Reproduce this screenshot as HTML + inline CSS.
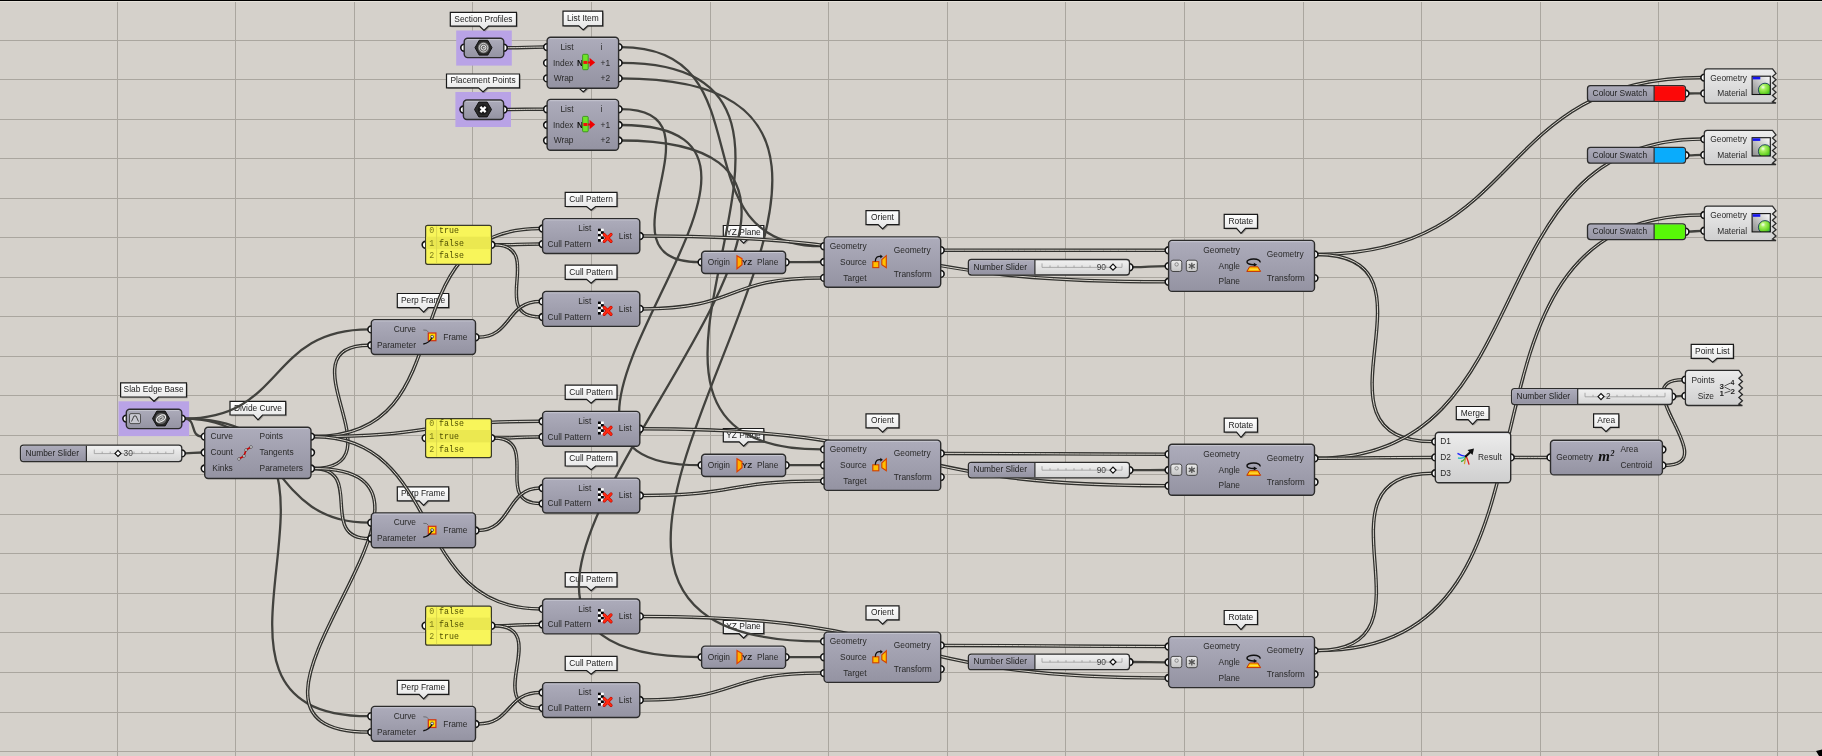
<!DOCTYPE html>
<html><head><meta charset="utf-8"><style>html,body{margin:0;padding:0;background:#d5d1cb;overflow:hidden}svg{display:block;will-change:transform}</style></head>
<body><svg width="1822" height="756" viewBox="0 0 1822 756">
<defs>
<linearGradient id="gGray" x1="0" y1="0" x2="0" y2="1"><stop offset="0" stop-color="#adacbb"/><stop offset="1" stop-color="#9493a2"/></linearGradient>
<linearGradient id="gLight" x1="0" y1="0" x2="0" y2="1"><stop offset="0" stop-color="#ececec"/><stop offset="1" stop-color="#cfcfcf"/></linearGradient>
<linearGradient id="gDark" x1="0" y1="0" x2="0" y2="1"><stop offset="0" stop-color="#a4a4b0"/><stop offset="1" stop-color="#8a8a98"/></linearGradient>
<linearGradient id="gTip" x1="0" y1="0" x2="0" y2="1"><stop offset="0" stop-color="#ffffff"/><stop offset="1" stop-color="#e2e2e2"/></linearGradient>
<linearGradient id="gSlide" x1="0" y1="0" x2="0" y2="1"><stop offset="0" stop-color="#f2f2f2"/><stop offset="1" stop-color="#d4d4d4"/></linearGradient>
<linearGradient id="gBox" x1="0" y1="0" x2="0" y2="1"><stop offset="0" stop-color="#ececec"/><stop offset="1" stop-color="#c4c4c4"/></linearGradient>
<radialGradient id="gBall" cx="0.35" cy="0.3" r="0.75"><stop offset="0" stop-color="#f4fff0"/><stop offset="0.25" stop-color="#a8f060"/><stop offset="0.7" stop-color="#60d020"/><stop offset="1" stop-color="#20a070"/></radialGradient>
<linearGradient id="gPvBox" x1="0" y1="1" x2="1" y2="0"><stop offset="0" stop-color="#8a8a8a"/><stop offset="1" stop-color="#ffffff"/></linearGradient>
</defs>
<rect x="0" y="0" width="1822" height="756" fill="#d5d1cb"/>
<path d="M117.5 0V756 M235.5 0V756 M354.5 0V756 M472.5 0V756 M591.5 0V756 M710.5 0V756 M828.5 0V756 M947.5 0V756 M1065.5 0V756 M1184.5 0V756 M1303.5 0V756 M1421.5 0V756 M1540.5 0V756 M1658.5 0V756 M1777.5 0V756 M0 40.5H1822 M0 79.5H1822 M0 119.5H1822 M0 158.5H1822 M0 198.5H1822 M0 237.5H1822 M0 277.5H1822 M0 316.5H1822 M0 356.5H1822 M0 395.5H1822 M0 435.5H1822 M0 474.5H1822 M0 514.5H1822 M0 553.5H1822 M0 593.5H1822 M0 632.5H1822 M0 672.5H1822 M0 712.5H1822 M0 751.5H1822" stroke="#aaa69f" stroke-width="1" fill="none"/>
<rect x="0" y="0" width="1822" height="1" fill="#000"/>
<rect x="0" y="1" width="1822" height="1" fill="#e6e2da"/>
<rect x="456.2" y="30.5" width="55.6" height="35.1" fill="#b9a3e6"/>
<rect x="455.4" y="92.0" width="55.6" height="35.0" fill="#b9a3e6"/>
<rect x="118.5" y="401.3" width="70.6" height="34.8" fill="#b9a3e6"/>
<path d="M450.3 12.3H516.5V26.1H488.5L484.0 30.5L479.5 26.1H450.3Z" transform="translate(1.2,1.2)" fill="#000" fill-opacity="0.25"/>
<path d="M450.3 12.3H516.5V26.1H488.5L484.0 30.5L479.5 26.1H450.3Z" fill="url(#gTip)" stroke="#1a1a1a" stroke-width="1.2" stroke-linejoin="miter"/>
<text x="483.4" y="21.6" font-size="8.4" fill="#222" text-anchor="middle" font-family="Liberation Sans, sans-serif" >Section Profiles</text>
<path d="M446.5 74.0H519.5V87.8H487.5L483.0 92.0L478.5 87.8H446.5Z" transform="translate(1.2,1.2)" fill="#000" fill-opacity="0.25"/>
<path d="M446.5 74.0H519.5V87.8H487.5L483.0 92.0L478.5 87.8H446.5Z" fill="url(#gTip)" stroke="#1a1a1a" stroke-width="1.2" stroke-linejoin="miter"/>
<text x="483.0" y="83.3" font-size="8.4" fill="#222" text-anchor="middle" font-family="Liberation Sans, sans-serif" >Placement Points</text>
<path d="M120.6 382.9H186.5V397.0H158.5L154.0 401.3L149.5 397.0H120.6Z" transform="translate(1.2,1.2)" fill="#000" fill-opacity="0.25"/>
<path d="M120.6 382.9H186.5V397.0H158.5L154.0 401.3L149.5 397.0H120.6Z" fill="url(#gTip)" stroke="#1a1a1a" stroke-width="1.2" stroke-linejoin="miter"/>
<text x="153.6" y="392.3" font-size="8.4" fill="#222" text-anchor="middle" font-family="Liberation Sans, sans-serif" >Slab Edge Base</text>
<path d="M563.0 11.2H602.7V25.8H587.7L583.2 29.9L578.7 25.8H563.0Z" transform="translate(1.2,1.2)" fill="#000" fill-opacity="0.25"/>
<path d="M563.0 11.2H602.7V25.8H587.7L583.2 29.9L578.7 25.8H563.0Z" fill="url(#gTip)" stroke="#1a1a1a" stroke-width="1.2" stroke-linejoin="miter"/>
<text x="582.9" y="20.9" font-size="8.4" fill="#222" text-anchor="middle" font-family="Liberation Sans, sans-serif" >List Item</text>
<path d="M563.0 73.3H602.7V87.9H587.7L583.2 92.0L578.7 87.9H563.0Z" transform="translate(1.2,1.2)" fill="#000" fill-opacity="0.25"/>
<path d="M563.0 73.3H602.7V87.9H587.7L583.2 92.0L578.7 87.9H563.0Z" fill="url(#gTip)" stroke="#1a1a1a" stroke-width="1.2" stroke-linejoin="miter"/>
<text x="582.9" y="83.0" font-size="8.4" fill="#222" text-anchor="middle" font-family="Liberation Sans, sans-serif" >List Item</text>
<path d="M230.0 401.3H285.7V415.0H262.5L258.0 419.8L253.5 415.0H230.0Z" transform="translate(1.2,1.2)" fill="#000" fill-opacity="0.25"/>
<path d="M230.0 401.3H285.7V415.0H262.5L258.0 419.8L253.5 415.0H230.0Z" fill="url(#gTip)" stroke="#1a1a1a" stroke-width="1.2" stroke-linejoin="miter"/>
<text x="257.9" y="410.5" font-size="8.4" fill="#222" text-anchor="middle" font-family="Liberation Sans, sans-serif" >Divide Curve</text>
<path d="M397.3 293.5H448.7V307.6H428.1L423.6 312.2L419.1 307.6H397.3Z" transform="translate(1.2,1.2)" fill="#000" fill-opacity="0.25"/>
<path d="M397.3 293.5H448.7V307.6H428.1L423.6 312.2L419.1 307.6H397.3Z" fill="url(#gTip)" stroke="#1a1a1a" stroke-width="1.2" stroke-linejoin="miter"/>
<text x="423.0" y="302.9" font-size="8.4" fill="#222" text-anchor="middle" font-family="Liberation Sans, sans-serif" >Perp Frame</text>
<path d="M397.3 486.8H448.7V500.9H428.1L423.6 505.5L419.1 500.9H397.3Z" transform="translate(1.2,1.2)" fill="#000" fill-opacity="0.25"/>
<path d="M397.3 486.8H448.7V500.9H428.1L423.6 505.5L419.1 500.9H397.3Z" fill="url(#gTip)" stroke="#1a1a1a" stroke-width="1.2" stroke-linejoin="miter"/>
<text x="423.0" y="496.2" font-size="8.4" fill="#222" text-anchor="middle" font-family="Liberation Sans, sans-serif" >Perp Frame</text>
<path d="M397.3 680.3H448.7V694.4H428.1L423.6 699.0L419.1 694.4H397.3Z" transform="translate(1.2,1.2)" fill="#000" fill-opacity="0.25"/>
<path d="M397.3 680.3H448.7V694.4H428.1L423.6 699.0L419.1 694.4H397.3Z" fill="url(#gTip)" stroke="#1a1a1a" stroke-width="1.2" stroke-linejoin="miter"/>
<text x="423.0" y="689.7" font-size="8.4" fill="#222" text-anchor="middle" font-family="Liberation Sans, sans-serif" >Perp Frame</text>
<path d="M565.2 192.3H617.0V206.5H595.6L591.1 210.3L586.6 206.5H565.2Z" transform="translate(1.2,1.2)" fill="#000" fill-opacity="0.25"/>
<path d="M565.2 192.3H617.0V206.5H595.6L591.1 210.3L586.6 206.5H565.2Z" fill="url(#gTip)" stroke="#1a1a1a" stroke-width="1.2" stroke-linejoin="miter"/>
<text x="591.1" y="201.8" font-size="8.4" fill="#222" text-anchor="middle" font-family="Liberation Sans, sans-serif" >Cull Pattern</text>
<path d="M565.2 265.2H617.0V279.4H595.6L591.1 283.2L586.6 279.4H565.2Z" transform="translate(1.2,1.2)" fill="#000" fill-opacity="0.25"/>
<path d="M565.2 265.2H617.0V279.4H595.6L591.1 283.2L586.6 279.4H565.2Z" fill="url(#gTip)" stroke="#1a1a1a" stroke-width="1.2" stroke-linejoin="miter"/>
<text x="591.1" y="274.7" font-size="8.4" fill="#222" text-anchor="middle" font-family="Liberation Sans, sans-serif" >Cull Pattern</text>
<path d="M565.2 385.1H617.0V399.3H595.6L591.1 403.1L586.6 399.3H565.2Z" transform="translate(1.2,1.2)" fill="#000" fill-opacity="0.25"/>
<path d="M565.2 385.1H617.0V399.3H595.6L591.1 403.1L586.6 399.3H565.2Z" fill="url(#gTip)" stroke="#1a1a1a" stroke-width="1.2" stroke-linejoin="miter"/>
<text x="591.1" y="394.6" font-size="8.4" fill="#222" text-anchor="middle" font-family="Liberation Sans, sans-serif" >Cull Pattern</text>
<path d="M565.2 451.8H617.0V466.0H595.6L591.1 469.8L586.6 466.0H565.2Z" transform="translate(1.2,1.2)" fill="#000" fill-opacity="0.25"/>
<path d="M565.2 451.8H617.0V466.0H595.6L591.1 469.8L586.6 466.0H565.2Z" fill="url(#gTip)" stroke="#1a1a1a" stroke-width="1.2" stroke-linejoin="miter"/>
<text x="591.1" y="461.3" font-size="8.4" fill="#222" text-anchor="middle" font-family="Liberation Sans, sans-serif" >Cull Pattern</text>
<path d="M565.2 572.7H617.0V586.9H595.6L591.1 590.7L586.6 586.9H565.2Z" transform="translate(1.2,1.2)" fill="#000" fill-opacity="0.25"/>
<path d="M565.2 572.7H617.0V586.9H595.6L591.1 590.7L586.6 586.9H565.2Z" fill="url(#gTip)" stroke="#1a1a1a" stroke-width="1.2" stroke-linejoin="miter"/>
<text x="591.1" y="582.2" font-size="8.4" fill="#222" text-anchor="middle" font-family="Liberation Sans, sans-serif" >Cull Pattern</text>
<path d="M565.2 656.3H617.0V670.5H595.6L591.1 674.3L586.6 670.5H565.2Z" transform="translate(1.2,1.2)" fill="#000" fill-opacity="0.25"/>
<path d="M565.2 656.3H617.0V670.5H595.6L591.1 674.3L586.6 670.5H565.2Z" fill="url(#gTip)" stroke="#1a1a1a" stroke-width="1.2" stroke-linejoin="miter"/>
<text x="591.1" y="665.8" font-size="8.4" fill="#222" text-anchor="middle" font-family="Liberation Sans, sans-serif" >Cull Pattern</text>
<path d="M723.3 225.5H763.8V238.8H748.1L743.6 243.2L739.1 238.8H723.3Z" transform="translate(1.2,1.2)" fill="#000" fill-opacity="0.25"/>
<path d="M723.3 225.5H763.8V238.8H748.1L743.6 243.2L739.1 238.8H723.3Z" fill="url(#gTip)" stroke="#1a1a1a" stroke-width="1.2" stroke-linejoin="miter"/>
<text x="743.5" y="234.5" font-size="8.4" fill="#222" text-anchor="middle" font-family="Liberation Sans, sans-serif" >YZ Plane</text>
<path d="M723.3 428.5H763.8V441.8H748.1L743.6 446.2L739.1 441.8H723.3Z" transform="translate(1.2,1.2)" fill="#000" fill-opacity="0.25"/>
<path d="M723.3 428.5H763.8V441.8H748.1L743.6 446.2L739.1 441.8H723.3Z" fill="url(#gTip)" stroke="#1a1a1a" stroke-width="1.2" stroke-linejoin="miter"/>
<text x="743.5" y="437.5" font-size="8.4" fill="#222" text-anchor="middle" font-family="Liberation Sans, sans-serif" >YZ Plane</text>
<path d="M723.3 620.4H763.8V633.7H748.1L743.6 638.1L739.1 633.7H723.3Z" transform="translate(1.2,1.2)" fill="#000" fill-opacity="0.25"/>
<path d="M723.3 620.4H763.8V633.7H748.1L743.6 638.1L739.1 633.7H723.3Z" fill="url(#gTip)" stroke="#1a1a1a" stroke-width="1.2" stroke-linejoin="miter"/>
<text x="743.5" y="629.4" font-size="8.4" fill="#222" text-anchor="middle" font-family="Liberation Sans, sans-serif" >YZ Plane</text>
<path d="M866.0 210.6H899.0V224.6H887.1L882.6 229.0L878.1 224.6H866.0Z" transform="translate(1.2,1.2)" fill="#000" fill-opacity="0.25"/>
<path d="M866.0 210.6H899.0V224.6H887.1L882.6 229.0L878.1 224.6H866.0Z" fill="url(#gTip)" stroke="#1a1a1a" stroke-width="1.2" stroke-linejoin="miter"/>
<text x="882.5" y="220.0" font-size="8.4" fill="#222" text-anchor="middle" font-family="Liberation Sans, sans-serif" >Orient</text>
<path d="M866.0 413.8H899.0V427.8H887.1L882.6 432.2L878.1 427.8H866.0Z" transform="translate(1.2,1.2)" fill="#000" fill-opacity="0.25"/>
<path d="M866.0 413.8H899.0V427.8H887.1L882.6 432.2L878.1 427.8H866.0Z" fill="url(#gTip)" stroke="#1a1a1a" stroke-width="1.2" stroke-linejoin="miter"/>
<text x="882.5" y="423.2" font-size="8.4" fill="#222" text-anchor="middle" font-family="Liberation Sans, sans-serif" >Orient</text>
<path d="M866.0 605.8H899.0V619.8H887.1L882.6 624.2L878.1 619.8H866.0Z" transform="translate(1.2,1.2)" fill="#000" fill-opacity="0.25"/>
<path d="M866.0 605.8H899.0V619.8H887.1L882.6 624.2L878.1 619.8H866.0Z" fill="url(#gTip)" stroke="#1a1a1a" stroke-width="1.2" stroke-linejoin="miter"/>
<text x="882.5" y="615.2" font-size="8.4" fill="#222" text-anchor="middle" font-family="Liberation Sans, sans-serif" >Orient</text>
<path d="M1224.2 214.3H1257.5V228.3H1245.5L1241.0 233.4L1236.5 228.3H1224.2Z" transform="translate(1.2,1.2)" fill="#000" fill-opacity="0.25"/>
<path d="M1224.2 214.3H1257.5V228.3H1245.5L1241.0 233.4L1236.5 228.3H1224.2Z" fill="url(#gTip)" stroke="#1a1a1a" stroke-width="1.2" stroke-linejoin="miter"/>
<text x="1240.8" y="223.7" font-size="8.4" fill="#222" text-anchor="middle" font-family="Liberation Sans, sans-serif" >Rotate</text>
<path d="M1224.2 418.2H1257.5V432.2H1245.5L1241.0 437.3L1236.5 432.2H1224.2Z" transform="translate(1.2,1.2)" fill="#000" fill-opacity="0.25"/>
<path d="M1224.2 418.2H1257.5V432.2H1245.5L1241.0 437.3L1236.5 432.2H1224.2Z" fill="url(#gTip)" stroke="#1a1a1a" stroke-width="1.2" stroke-linejoin="miter"/>
<text x="1240.8" y="427.6" font-size="8.4" fill="#222" text-anchor="middle" font-family="Liberation Sans, sans-serif" >Rotate</text>
<path d="M1224.2 610.5H1257.5V624.5H1245.5L1241.0 629.6L1236.5 624.5H1224.2Z" transform="translate(1.2,1.2)" fill="#000" fill-opacity="0.25"/>
<path d="M1224.2 610.5H1257.5V624.5H1245.5L1241.0 629.6L1236.5 624.5H1224.2Z" fill="url(#gTip)" stroke="#1a1a1a" stroke-width="1.2" stroke-linejoin="miter"/>
<text x="1240.8" y="619.9" font-size="8.4" fill="#222" text-anchor="middle" font-family="Liberation Sans, sans-serif" >Rotate</text>
<path d="M1456.3 406.5H1489.0V419.7H1477.1L1472.6 424.3L1468.1 419.7H1456.3Z" transform="translate(1.2,1.2)" fill="#000" fill-opacity="0.25"/>
<path d="M1456.3 406.5H1489.0V419.7H1477.1L1472.6 424.3L1468.1 419.7H1456.3Z" fill="url(#gTip)" stroke="#1a1a1a" stroke-width="1.2" stroke-linejoin="miter"/>
<text x="1472.7" y="415.5" font-size="8.4" fill="#222" text-anchor="middle" font-family="Liberation Sans, sans-serif" >Merge</text>
<path d="M1691.2 344.4H1733.4V358.3H1717.1L1712.6 362.2L1708.1 358.3H1691.2Z" transform="translate(1.2,1.2)" fill="#000" fill-opacity="0.25"/>
<path d="M1691.2 344.4H1733.4V358.3H1717.1L1712.6 362.2L1708.1 358.3H1691.2Z" fill="url(#gTip)" stroke="#1a1a1a" stroke-width="1.2" stroke-linejoin="miter"/>
<text x="1712.3" y="353.8" font-size="8.4" fill="#222" text-anchor="middle" font-family="Liberation Sans, sans-serif" >Point List</text>
<path d="M1593.6 413.8H1618.8V427.3H1610.5L1606.0 431.6L1601.5 427.3H1593.6Z" transform="translate(1.2,1.2)" fill="#000" fill-opacity="0.25"/>
<path d="M1593.6 413.8H1618.8V427.3H1610.5L1606.0 431.6L1601.5 427.3H1593.6Z" fill="url(#gTip)" stroke="#1a1a1a" stroke-width="1.2" stroke-linejoin="miter"/>
<text x="1606.2" y="422.9" font-size="8.4" fill="#222" text-anchor="middle" font-family="Liberation Sans, sans-serif" >Area</text>
<path d="M506.0 47.7C527.5 47.7 523.5 47.1 545.0 47.1" stroke="#30302d" stroke-width="3.5" fill="none"/><path d="M506.0 47.7C527.5 47.7 523.5 47.1 545.0 47.1" stroke="#dad6ce" stroke-width="1.0" fill="none"/>
<path d="M506.0 109.5C527.5 109.5 523.5 109.2 545.0 109.2" stroke="#30302d" stroke-width="3.5" fill="none"/><path d="M506.0 109.5C527.5 109.5 523.5 109.2 545.0 109.2" stroke="#dad6ce" stroke-width="1.0" fill="none"/>
<path d="M621.0 47.1C770.4 47.1 672.6 246.2 822.0 246.2" stroke="#42423e" stroke-width="2.3" fill="none"/>
<path d="M621.0 109.2C732.0 109.2 588.5 262.2 699.5 262.2" stroke="#42423e" stroke-width="2.3" fill="none"/>
<path d="M621.0 62.9C901.6 62.9 541.4 449.4 822.0 449.4" stroke="#42423e" stroke-width="2.3" fill="none"/>
<path d="M621.0 125.0C863.1 125.0 457.4 465.2 699.5 465.2" stroke="#42423e" stroke-width="2.3" fill="none"/>
<path d="M621.0 78.4C1044.9 78.4 398.1 641.4 822.0 641.4" stroke="#42423e" stroke-width="2.3" fill="none"/>
<path d="M621.0 140.5C1004.6 140.5 315.9 657.1 699.5 657.1" stroke="#42423e" stroke-width="2.3" fill="none"/>
<path d="M184.0 418.6C197.5 418.6 189.0 436.6 202.5 436.6" stroke="#42423e" stroke-width="2.3" fill="none"/>
<path d="M184.0 418.6C285.8 418.6 267.2 329.4 369.0 329.4" stroke="#42423e" stroke-width="2.3" fill="none"/>
<path d="M184.0 418.6C285.8 418.6 267.2 522.7 369.0 522.7" stroke="#42423e" stroke-width="2.3" fill="none"/>
<path d="M184.0 418.6C401.6 418.6 151.4 716.2 369.0 716.2" stroke="#42423e" stroke-width="2.3" fill="none"/>
<path d="M184.0 453.4C194.2 453.4 192.3 452.5 202.5 452.5" stroke="#42423e" stroke-width="2.3" fill="none"/>
<path d="M313.5 468.5C402.5 468.5 280.0 345.3 369.0 345.3" stroke="#30302d" stroke-width="3.5" fill="none"/><path d="M313.5 468.5C402.5 468.5 280.0 345.3 369.0 345.3" stroke="#dad6ce" stroke-width="1.0" fill="none"/>
<path d="M313.5 468.5C365.3 468.5 317.2 538.6 369.0 538.6" stroke="#30302d" stroke-width="3.5" fill="none"/><path d="M313.5 468.5C365.3 468.5 317.2 538.6 369.0 538.6" stroke="#dad6ce" stroke-width="1.0" fill="none"/>
<path d="M313.5 468.5C500.8 468.5 181.7 732.1 369.0 732.1" stroke="#30302d" stroke-width="3.5" fill="none"/><path d="M313.5 468.5C500.8 468.5 181.7 732.1 369.0 732.1" stroke="#dad6ce" stroke-width="1.0" fill="none"/>
<path d="M313.5 436.6C470.5 436.6 383.3 228.5 540.3 228.5" stroke="#30302d" stroke-width="3.5" fill="none"/><path d="M313.5 436.6C470.5 436.6 383.3 228.5 540.3 228.5" stroke="#dad6ce" stroke-width="1.0" fill="none"/>
<path d="M313.5 436.6C438.2 436.6 415.6 421.3 540.3 421.3" stroke="#30302d" stroke-width="3.5" fill="none"/><path d="M313.5 436.6C438.2 436.6 415.6 421.3 540.3 421.3" stroke="#dad6ce" stroke-width="1.0" fill="none"/>
<path d="M313.5 436.6C445.4 436.6 408.4 608.9 540.3 608.9" stroke="#30302d" stroke-width="3.5" fill="none"/><path d="M313.5 436.6C445.4 436.6 408.4 608.9 540.3 608.9" stroke="#dad6ce" stroke-width="1.0" fill="none"/>
<path d="M493.6 244.8C519.3 244.8 514.6 244.1 540.3 244.1" stroke="#30302d" stroke-width="3.5" fill="none"/><path d="M493.6 244.8C519.3 244.8 514.6 244.1 540.3 244.1" stroke="#dad6ce" stroke-width="1.0" fill="none"/>
<path d="M493.6 244.8C546.5 244.8 487.4 317.0 540.3 317.0" stroke="#30302d" stroke-width="3.5" fill="none"/><path d="M493.6 244.8C546.5 244.8 487.4 317.0 540.3 317.0" stroke="#dad6ce" stroke-width="1.0" fill="none"/>
<path d="M477.8 337.2C512.2 337.2 505.9 301.4 540.3 301.4" stroke="#30302d" stroke-width="3.5" fill="none"/><path d="M477.8 337.2C512.2 337.2 505.9 301.4 540.3 301.4" stroke="#dad6ce" stroke-width="1.0" fill="none"/>
<path d="M642.0 236.0C930.5 236.0 878.0 281.8 1166.5 281.8" stroke="#30302d" stroke-width="3.5" fill="none"/><path d="M642.0 236.0C930.5 236.0 878.0 281.8 1166.5 281.8" stroke="#dad6ce" stroke-width="1.0" fill="none"/>
<path d="M642.0 308.9C741.0 308.9 723.0 277.9 822.0 277.9" stroke="#30302d" stroke-width="3.5" fill="none"/><path d="M642.0 308.9C741.0 308.9 723.0 277.9 822.0 277.9" stroke="#dad6ce" stroke-width="1.0" fill="none"/>
<path d="M787.8 262.2C806.6 262.2 803.2 262.0 822.0 262.0" stroke="#42423e" stroke-width="2.3" fill="none"/>
<path d="M943.0 250.2C1065.9 250.2 1043.6 250.3 1166.5 250.3" stroke="#30302d" stroke-width="3.5" fill="none"/><path d="M943.0 250.2C1065.9 250.2 1043.6 250.3 1166.5 250.3" stroke="#dad6ce" stroke-width="1.0" fill="none"/>
<path d="M1131.7 267.2C1150.8 267.2 1147.4 266.1 1166.5 266.1" stroke="#42423e" stroke-width="2.3" fill="none"/>
<path d="M1316.7 254.4C1528.6 254.4 1490.1 77.6 1702.0 77.6" stroke="#30302d" stroke-width="3.5" fill="none"/><path d="M1316.7 254.4C1528.6 254.4 1490.1 77.6 1702.0 77.6" stroke="#dad6ce" stroke-width="1.0" fill="none"/>
<path d="M1316.7 254.4C1453.6 254.4 1296.1 441.6 1433.0 441.6" stroke="#30302d" stroke-width="3.5" fill="none"/><path d="M1316.7 254.4C1453.6 254.4 1296.1 441.6 1433.0 441.6" stroke="#dad6ce" stroke-width="1.0" fill="none"/>
<path d="M1687.7 93.5C1695.6 93.5 1694.1 93.4 1702.0 93.4" stroke="#42423e" stroke-width="2.3" fill="none"/>
<path d="M493.6 438.1C519.3 438.1 514.6 436.9 540.3 436.9" stroke="#30302d" stroke-width="3.5" fill="none"/><path d="M493.6 438.1C519.3 438.1 514.6 436.9 540.3 436.9" stroke="#dad6ce" stroke-width="1.0" fill="none"/>
<path d="M493.6 438.1C541.8 438.1 492.1 503.6 540.3 503.6" stroke="#30302d" stroke-width="3.5" fill="none"/><path d="M493.6 438.1C541.8 438.1 492.1 503.6 540.3 503.6" stroke="#dad6ce" stroke-width="1.0" fill="none"/>
<path d="M477.8 530.5C512.2 530.5 505.9 488.0 540.3 488.0" stroke="#30302d" stroke-width="3.5" fill="none"/><path d="M477.8 530.5C512.2 530.5 505.9 488.0 540.3 488.0" stroke="#dad6ce" stroke-width="1.0" fill="none"/>
<path d="M642.0 428.8C930.5 428.8 878.0 485.7 1166.5 485.7" stroke="#30302d" stroke-width="3.5" fill="none"/><path d="M642.0 428.8C930.5 428.8 878.0 485.7 1166.5 485.7" stroke="#dad6ce" stroke-width="1.0" fill="none"/>
<path d="M642.0 495.5C741.0 495.5 723.0 481.1 822.0 481.1" stroke="#30302d" stroke-width="3.5" fill="none"/><path d="M642.0 495.5C741.0 495.5 723.0 481.1 822.0 481.1" stroke="#dad6ce" stroke-width="1.0" fill="none"/>
<path d="M787.8 465.2C806.6 465.2 803.2 465.2 822.0 465.2" stroke="#42423e" stroke-width="2.3" fill="none"/>
<path d="M943.0 453.4C1065.9 453.4 1043.6 454.2 1166.5 454.2" stroke="#30302d" stroke-width="3.5" fill="none"/><path d="M943.0 453.4C1065.9 453.4 1043.6 454.2 1166.5 454.2" stroke="#dad6ce" stroke-width="1.0" fill="none"/>
<path d="M1131.7 470.1C1150.8 470.1 1147.4 470.0 1166.5 470.0" stroke="#42423e" stroke-width="2.3" fill="none"/>
<path d="M1316.7 458.3C1548.7 458.3 1470.0 139.1 1702.0 139.1" stroke="#30302d" stroke-width="3.5" fill="none"/><path d="M1316.7 458.3C1548.7 458.3 1470.0 139.1 1702.0 139.1" stroke="#dad6ce" stroke-width="1.0" fill="none"/>
<path d="M1316.7 458.3C1380.7 458.3 1369.0 457.4 1433.0 457.4" stroke="#30302d" stroke-width="3.5" fill="none"/><path d="M1316.7 458.3C1380.7 458.3 1369.0 457.4 1433.0 457.4" stroke="#dad6ce" stroke-width="1.0" fill="none"/>
<path d="M1687.7 155.3C1695.6 155.3 1694.1 154.9 1702.0 154.9" stroke="#42423e" stroke-width="2.3" fill="none"/>
<path d="M493.6 625.7C519.3 625.7 514.6 624.5 540.3 624.5" stroke="#30302d" stroke-width="3.5" fill="none"/><path d="M493.6 625.7C519.3 625.7 514.6 624.5 540.3 624.5" stroke="#dad6ce" stroke-width="1.0" fill="none"/>
<path d="M493.6 625.7C553.6 625.7 480.3 708.1 540.3 708.1" stroke="#30302d" stroke-width="3.5" fill="none"/><path d="M493.6 625.7C553.6 625.7 480.3 708.1 540.3 708.1" stroke="#dad6ce" stroke-width="1.0" fill="none"/>
<path d="M477.8 724.0C512.2 724.0 505.9 692.5 540.3 692.5" stroke="#30302d" stroke-width="3.5" fill="none"/><path d="M477.8 724.0C512.2 724.0 505.9 692.5 540.3 692.5" stroke="#dad6ce" stroke-width="1.0" fill="none"/>
<path d="M642.0 616.4C930.5 616.4 878.0 678.0 1166.5 678.0" stroke="#30302d" stroke-width="3.5" fill="none"/><path d="M642.0 616.4C930.5 616.4 878.0 678.0 1166.5 678.0" stroke="#dad6ce" stroke-width="1.0" fill="none"/>
<path d="M642.0 700.0C741.0 700.0 723.0 673.1 822.0 673.1" stroke="#30302d" stroke-width="3.5" fill="none"/><path d="M642.0 700.0C741.0 700.0 723.0 673.1 822.0 673.1" stroke="#dad6ce" stroke-width="1.0" fill="none"/>
<path d="M787.8 657.1C806.6 657.1 803.2 657.2 822.0 657.2" stroke="#42423e" stroke-width="2.3" fill="none"/>
<path d="M943.0 645.4C1065.9 645.4 1043.6 646.5 1166.5 646.5" stroke="#30302d" stroke-width="3.5" fill="none"/><path d="M943.0 645.4C1065.9 645.4 1043.6 646.5 1166.5 646.5" stroke="#dad6ce" stroke-width="1.0" fill="none"/>
<path d="M1131.7 662.0C1150.8 662.0 1147.4 662.3 1166.5 662.3" stroke="#42423e" stroke-width="2.3" fill="none"/>
<path d="M1316.7 650.6C1600.7 650.6 1418.0 215.0 1702.0 215.0" stroke="#30302d" stroke-width="3.5" fill="none"/><path d="M1316.7 650.6C1600.7 650.6 1418.0 215.0 1702.0 215.0" stroke="#dad6ce" stroke-width="1.0" fill="none"/>
<path d="M1316.7 650.6C1446.6 650.6 1303.1 473.3 1433.0 473.3" stroke="#30302d" stroke-width="3.5" fill="none"/><path d="M1316.7 650.6C1446.6 650.6 1303.1 473.3 1433.0 473.3" stroke="#dad6ce" stroke-width="1.0" fill="none"/>
<path d="M1687.7 231.7C1695.6 231.7 1694.1 230.8 1702.0 230.8" stroke="#42423e" stroke-width="2.3" fill="none"/>
<path d="M1513.0 457.4C1532.4 457.4 1528.9 457.4 1548.3 457.4" stroke="#30302d" stroke-width="3.5" fill="none"/><path d="M1513.0 457.4C1532.4 457.4 1528.9 457.4 1548.3 457.4" stroke="#dad6ce" stroke-width="1.0" fill="none"/>
<path d="M1664.6 465.4C1725.5 465.4 1622.3 379.7 1683.2 379.7" stroke="#30302d" stroke-width="3.5" fill="none"/><path d="M1664.6 465.4C1725.5 465.4 1622.3 379.7 1683.2 379.7" stroke="#dad6ce" stroke-width="1.0" fill="none"/>
<path d="M1674.5 396.5C1679.3 396.5 1678.4 395.9 1683.2 395.9" stroke="#42423e" stroke-width="2.3" fill="none"/>
<circle cx="464.2" cy="47.7" r="3.4" fill="#fff" stroke="#111" stroke-width="1.6"/>
<circle cx="503.8" cy="47.7" r="3.4" fill="#fff" stroke="#111" stroke-width="1.6"/>
<rect x="464.2" y="38.3" width="39.6" height="19.3" rx="3.5" fill="url(#gGray)" stroke="#2c2c2c" stroke-width="1.4"/>
<path d="M466.7 39.6H501.3" stroke="#d0d0d8" stroke-opacity="0.7" stroke-width="1"/>
<polygon points="492.0,47.7 487.8,55.1 479.2,55.1 475.0,47.7 479.2,40.3 487.8,40.3" fill="#2a2a2a" stroke="#111" stroke-width="1"/>
<circle cx="483.5" cy="47.7" r="5.6" fill="#6a6a6a"/>
<circle cx="483.5" cy="47.7" r="4.3" fill="none" stroke="#cfcfcf" stroke-width="1"/>
<circle cx="483.5" cy="47.7" r="2.4" fill="none" stroke="#e8e8e8" stroke-width="1"/>
<circle cx="483.9" cy="47.7" r="0.8" fill="#fff"/>
<circle cx="463.4" cy="109.5" r="3.4" fill="#fff" stroke="#111" stroke-width="1.6"/>
<circle cx="503.6" cy="109.5" r="3.4" fill="#fff" stroke="#111" stroke-width="1.6"/>
<rect x="463.4" y="100.0" width="40.2" height="19.5" rx="3.5" fill="url(#gGray)" stroke="#2c2c2c" stroke-width="1.4"/>
<path d="M465.9 101.3H501.1" stroke="#d0d0d8" stroke-opacity="0.7" stroke-width="1"/>
<polygon points="491.5,109.5 487.2,116.9 478.8,116.9 474.5,109.5 478.8,102.1 487.2,102.1" fill="#2a2a2a" stroke="#111" stroke-width="1"/>
<circle cx="483" cy="109.5" r="5.2" fill="#1a1a1a"/>
<path d="M480.4 106.9L485.6 112.1M485.6 106.9L480.4 112.1" stroke="#fff" stroke-width="2.2"/>
<circle cx="126.3" cy="418.6" r="3.4" fill="#fff" stroke="#111" stroke-width="1.6"/>
<circle cx="181.8" cy="418.6" r="3.4" fill="#fff" stroke="#111" stroke-width="1.6"/>
<rect x="126.3" y="409.2" width="55.5" height="19.4" rx="3.5" fill="url(#gGray)" stroke="#2c2c2c" stroke-width="1.4"/>
<path d="M128.8 410.5H179.3" stroke="#d0d0d8" stroke-opacity="0.7" stroke-width="1"/>
<rect x="129.5" y="413.6" width="11" height="10" rx="1.5" fill="#c8c8d0" stroke="#444" stroke-width="0.9"/>
<path d="M131.5 421.5L134 416H136L138.5 421.5" stroke="#333" stroke-width="0.9" fill="none"/>
<polygon points="169.5,418.5 165.2,425.9 156.8,425.9 152.5,418.5 156.8,411.1 165.2,411.1" fill="#2a2a2a" stroke="#111" stroke-width="1"/>
<circle cx="161" cy="418.5" r="5.5" fill="#666"/>
<ellipse cx="161" cy="418.5" rx="5" ry="3" transform="rotate(-30 161 418.5)" stroke="#eee" stroke-width="1.2" fill="none"/>
<ellipse cx="161" cy="418.5" rx="2.5" ry="1.3" transform="rotate(-30 161 418.5)" stroke="#ddd" stroke-width="1" fill="none"/>
<circle cx="547.1" cy="47.1" r="3.4" fill="#fff" stroke="#111" stroke-width="1.6"/>
<circle cx="547.1" cy="62.9" r="3.4" fill="#fff" stroke="#111" stroke-width="1.6"/>
<circle cx="547.1" cy="78.4" r="3.4" fill="#fff" stroke="#111" stroke-width="1.6"/>
<circle cx="618.6" cy="47.1" r="3.4" fill="#fff" stroke="#111" stroke-width="1.6"/>
<circle cx="618.6" cy="62.9" r="3.4" fill="#fff" stroke="#111" stroke-width="1.6"/>
<circle cx="618.6" cy="78.4" r="3.4" fill="#fff" stroke="#111" stroke-width="1.6"/>
<rect x="547.1" y="37.3" width="71.5" height="50.9" rx="3.5" fill="url(#gGray)" stroke="#2c2c2c" stroke-width="1.4"/>
<path d="M549.6 38.6H616.1" stroke="#d0d0d8" stroke-opacity="0.7" stroke-width="1"/>
<text x="573.5" y="49.7" font-size="8.4" fill="#2a2a2a" text-anchor="end" font-family="Liberation Sans, sans-serif" >List</text>
<text x="573.5" y="65.5" font-size="8.4" fill="#2a2a2a" text-anchor="end" font-family="Liberation Sans, sans-serif" >Index</text>
<text x="573.5" y="81.0" font-size="8.4" fill="#2a2a2a" text-anchor="end" font-family="Liberation Sans, sans-serif" >Wrap</text>
<text x="600.5" y="49.7" font-size="8.4" fill="#2a2a2a" text-anchor="start" font-family="Liberation Sans, sans-serif" >i</text>
<text x="600.5" y="65.5" font-size="8.4" fill="#2a2a2a" text-anchor="start" font-family="Liberation Sans, sans-serif" >+1</text>
<text x="600.5" y="81.0" font-size="8.4" fill="#2a2a2a" text-anchor="start" font-family="Liberation Sans, sans-serif" >+2</text>
<text x="577.0" y="65.6" font-size="8.2" font-weight="bold" fill="#111" font-family="Liberation Sans, sans-serif">N</text>
<rect x="582.6" y="54.3" width="5.6" height="15.4" rx="1" fill="#6fe52a" stroke="#2f8a10" stroke-width="0.8"/>
<rect x="583.4" y="60.9" width="4" height="3" fill="#f01010"/>
<path d="M588.1 62.4H591.6M590.6 59.9L593.6 62.4L590.6 64.89999999999999Z" stroke="#e00" stroke-width="2" fill="#e00"/>
<circle cx="547.1" cy="109.2" r="3.4" fill="#fff" stroke="#111" stroke-width="1.6"/>
<circle cx="547.1" cy="125.0" r="3.4" fill="#fff" stroke="#111" stroke-width="1.6"/>
<circle cx="547.1" cy="140.5" r="3.4" fill="#fff" stroke="#111" stroke-width="1.6"/>
<circle cx="618.6" cy="109.2" r="3.4" fill="#fff" stroke="#111" stroke-width="1.6"/>
<circle cx="618.6" cy="125.0" r="3.4" fill="#fff" stroke="#111" stroke-width="1.6"/>
<circle cx="618.6" cy="140.5" r="3.4" fill="#fff" stroke="#111" stroke-width="1.6"/>
<rect x="547.1" y="99.4" width="71.5" height="50.9" rx="3.5" fill="url(#gGray)" stroke="#2c2c2c" stroke-width="1.4"/>
<path d="M549.6 100.7H616.1" stroke="#d0d0d8" stroke-opacity="0.7" stroke-width="1"/>
<text x="573.5" y="111.8" font-size="8.4" fill="#2a2a2a" text-anchor="end" font-family="Liberation Sans, sans-serif" >List</text>
<text x="573.5" y="127.6" font-size="8.4" fill="#2a2a2a" text-anchor="end" font-family="Liberation Sans, sans-serif" >Index</text>
<text x="573.5" y="143.1" font-size="8.4" fill="#2a2a2a" text-anchor="end" font-family="Liberation Sans, sans-serif" >Wrap</text>
<text x="600.5" y="111.8" font-size="8.4" fill="#2a2a2a" text-anchor="start" font-family="Liberation Sans, sans-serif" >i</text>
<text x="600.5" y="127.6" font-size="8.4" fill="#2a2a2a" text-anchor="start" font-family="Liberation Sans, sans-serif" >+1</text>
<text x="600.5" y="143.1" font-size="8.4" fill="#2a2a2a" text-anchor="start" font-family="Liberation Sans, sans-serif" >+2</text>
<text x="577.0" y="127.7" font-size="8.2" font-weight="bold" fill="#111" font-family="Liberation Sans, sans-serif">N</text>
<rect x="582.6" y="116.4" width="5.6" height="15.4" rx="1" fill="#6fe52a" stroke="#2f8a10" stroke-width="0.8"/>
<rect x="583.4" y="123.0" width="4" height="3" fill="#f01010"/>
<path d="M588.1 124.5H591.6M590.6 122.0L593.6 124.5L590.6 127.0Z" stroke="#e00" stroke-width="2" fill="#e00"/>
<circle cx="181.8" cy="453.4" r="3.4" fill="#fff" stroke="#111" stroke-width="1.6"/>
<rect x="20.5" y="445.2" width="161.3" height="16.4" rx="3" fill="url(#gSlide)" stroke="#2c2c2c" stroke-width="1.3"/>
<path d="M21.2 448.7Q21.2 445.9 24.0 445.9H86.4V460.9H24.0Q21.2 460.9 21.2 458.1Z" fill="url(#gGray)"/>
<path d="M86.4 445.7V461.1" stroke="#2c2c2c" stroke-width="1.2"/>
<text x="25.5" y="455.7" font-size="8.4" fill="#222" text-anchor="start" font-family="Liberation Sans, sans-serif" >Number Slider</text>
<path d="M94.3 453.6H173.7 M94.3 453.6V449.6 M102.2 453.6V451.6 M110.2 453.6V451.6 M118.1 453.6V451.6 M126.1 453.6V451.6 M134.0 453.6V451.6 M141.9 453.6V451.6 M149.9 453.6V451.6 M157.8 453.6V451.6 M165.8 453.6V451.6 M173.7 453.6V449.6" stroke="#9a9a9a" stroke-width="0.8" fill="none"/>
<path d="M115.0 453.4L118.0 450.4L121.0 453.4L118.0 456.4Z" fill="#fff" stroke="#111" stroke-width="1.2"/>
<text x="123.5" y="456.2" font-size="8.4" fill="#444" text-anchor="start" font-family="Liberation Sans, sans-serif" >30</text>
<circle cx="204.7" cy="436.6" r="3.4" fill="#fff" stroke="#111" stroke-width="1.6"/>
<circle cx="204.7" cy="452.5" r="3.4" fill="#fff" stroke="#111" stroke-width="1.6"/>
<circle cx="204.7" cy="468.5" r="3.4" fill="#fff" stroke="#111" stroke-width="1.6"/>
<circle cx="311.0" cy="436.6" r="3.4" fill="#fff" stroke="#111" stroke-width="1.6"/>
<circle cx="311.0" cy="452.5" r="3.4" fill="#fff" stroke="#111" stroke-width="1.6"/>
<circle cx="311.0" cy="468.5" r="3.4" fill="#fff" stroke="#111" stroke-width="1.6"/>
<rect x="204.7" y="427.3" width="106.3" height="51.2" rx="3.5" fill="url(#gGray)" stroke="#2c2c2c" stroke-width="1.4"/>
<path d="M207.2 428.6H308.5" stroke="#d0d0d8" stroke-opacity="0.7" stroke-width="1"/>
<text x="232.8" y="439.2" font-size="8.4" fill="#2a2a2a" text-anchor="end" font-family="Liberation Sans, sans-serif" >Curve</text>
<text x="232.8" y="455.1" font-size="8.4" fill="#2a2a2a" text-anchor="end" font-family="Liberation Sans, sans-serif" >Count</text>
<text x="232.8" y="471.1" font-size="8.4" fill="#2a2a2a" text-anchor="end" font-family="Liberation Sans, sans-serif" >Kinks</text>
<text x="259.6" y="439.2" font-size="8.4" fill="#2a2a2a" text-anchor="start" font-family="Liberation Sans, sans-serif" >Points</text>
<text x="259.6" y="455.1" font-size="8.4" fill="#2a2a2a" text-anchor="start" font-family="Liberation Sans, sans-serif" >Tangents</text>
<text x="259.6" y="471.1" font-size="8.4" fill="#2a2a2a" text-anchor="start" font-family="Liberation Sans, sans-serif" >Parameters</text>
<path d="M239 459L244 456L246 450L251 447" stroke="#c00" stroke-width="1.6" fill="none"/>
<circle cx="239" cy="459" r="1.3" fill="#fff" stroke="#222" stroke-width="0.6"/>
<circle cx="244" cy="456" r="1.3" fill="#fff" stroke="#222" stroke-width="0.6"/>
<circle cx="246" cy="450" r="1.3" fill="#fff" stroke="#222" stroke-width="0.6"/>
<circle cx="251" cy="447" r="1.3" fill="#fff" stroke="#222" stroke-width="0.6"/>
<circle cx="371.3" cy="329.4" r="3.4" fill="#fff" stroke="#111" stroke-width="1.6"/>
<circle cx="371.3" cy="345.3" r="3.4" fill="#fff" stroke="#111" stroke-width="1.6"/>
<circle cx="475.5" cy="337.2" r="3.4" fill="#fff" stroke="#111" stroke-width="1.6"/>
<rect x="371.3" y="319.6" width="104.2" height="34.9" rx="3.5" fill="url(#gGray)" stroke="#2c2c2c" stroke-width="1.4"/>
<path d="M373.8 320.9H473.0" stroke="#d0d0d8" stroke-opacity="0.7" stroke-width="1"/>
<text x="416.0" y="332.0" font-size="8.4" fill="#2a2a2a" text-anchor="end" font-family="Liberation Sans, sans-serif" >Curve</text>
<text x="416.0" y="347.9" font-size="8.4" fill="#2a2a2a" text-anchor="end" font-family="Liberation Sans, sans-serif" >Parameter</text>
<text x="443.3" y="339.8" font-size="8.4" fill="#2a2a2a" text-anchor="start" font-family="Liberation Sans, sans-serif" >Frame</text>
<path d="M423.3 330.0Q427.3 329.5 428.3 332.0" stroke="#555" stroke-width="0.7" fill="none"/>
<rect x="428.3" y="333.0" width="7.6" height="7.7" fill="#ffd800" stroke="#d03010" stroke-width="1.2"/>
<circle cx="432.1" cy="336.8" r="1.5" fill="#dde" stroke="#333" stroke-width="0.7"/>
<path d="M423.3 344.0Q429.3 343.0 432.1 337.5" stroke="#111" stroke-width="1.4" fill="none"/>
<circle cx="371.3" cy="522.7" r="3.4" fill="#fff" stroke="#111" stroke-width="1.6"/>
<circle cx="371.3" cy="538.6" r="3.4" fill="#fff" stroke="#111" stroke-width="1.6"/>
<circle cx="475.5" cy="530.5" r="3.4" fill="#fff" stroke="#111" stroke-width="1.6"/>
<rect x="371.3" y="512.9" width="104.2" height="34.9" rx="3.5" fill="url(#gGray)" stroke="#2c2c2c" stroke-width="1.4"/>
<path d="M373.8 514.2H473.0" stroke="#d0d0d8" stroke-opacity="0.7" stroke-width="1"/>
<text x="416.0" y="525.3" font-size="8.4" fill="#2a2a2a" text-anchor="end" font-family="Liberation Sans, sans-serif" >Curve</text>
<text x="416.0" y="541.2" font-size="8.4" fill="#2a2a2a" text-anchor="end" font-family="Liberation Sans, sans-serif" >Parameter</text>
<text x="443.3" y="533.1" font-size="8.4" fill="#2a2a2a" text-anchor="start" font-family="Liberation Sans, sans-serif" >Frame</text>
<path d="M423.3 523.3Q427.3 522.8 428.3 525.3" stroke="#555" stroke-width="0.7" fill="none"/>
<rect x="428.3" y="526.3" width="7.6" height="7.7" fill="#ffd800" stroke="#d03010" stroke-width="1.2"/>
<circle cx="432.1" cy="530.0999999999999" r="1.5" fill="#dde" stroke="#333" stroke-width="0.7"/>
<path d="M423.3 537.3Q429.3 536.3 432.1 530.8" stroke="#111" stroke-width="1.4" fill="none"/>
<circle cx="371.3" cy="716.2" r="3.4" fill="#fff" stroke="#111" stroke-width="1.6"/>
<circle cx="371.3" cy="732.1" r="3.4" fill="#fff" stroke="#111" stroke-width="1.6"/>
<circle cx="475.5" cy="724.0" r="3.4" fill="#fff" stroke="#111" stroke-width="1.6"/>
<rect x="371.3" y="706.4" width="104.2" height="34.9" rx="3.5" fill="url(#gGray)" stroke="#2c2c2c" stroke-width="1.4"/>
<path d="M373.8 707.7H473.0" stroke="#d0d0d8" stroke-opacity="0.7" stroke-width="1"/>
<text x="416.0" y="718.8" font-size="8.4" fill="#2a2a2a" text-anchor="end" font-family="Liberation Sans, sans-serif" >Curve</text>
<text x="416.0" y="734.7" font-size="8.4" fill="#2a2a2a" text-anchor="end" font-family="Liberation Sans, sans-serif" >Parameter</text>
<text x="443.3" y="726.6" font-size="8.4" fill="#2a2a2a" text-anchor="start" font-family="Liberation Sans, sans-serif" >Frame</text>
<path d="M423.3 716.8Q427.3 716.3 428.3 718.8" stroke="#555" stroke-width="0.7" fill="none"/>
<rect x="428.3" y="719.8" width="7.6" height="7.7" fill="#ffd800" stroke="#d03010" stroke-width="1.2"/>
<circle cx="432.1" cy="723.5999999999999" r="1.5" fill="#dde" stroke="#333" stroke-width="0.7"/>
<path d="M423.3 730.8Q429.3 729.8 432.1 724.3" stroke="#111" stroke-width="1.4" fill="none"/>
<circle cx="425.6" cy="244.8" r="3.4" fill="#fff" stroke="#111" stroke-width="1.6"/>
<circle cx="491.4" cy="244.8" r="3.4" fill="#fff" stroke="#111" stroke-width="1.6"/>
<rect x="425.6" y="225.3" width="65.8" height="39.0" rx="2" fill="#f8f55a" stroke="#3a3a2a" stroke-width="1.2"/>
<rect x="426.4" y="236.7" width="64.2" height="12.4" fill="#ebe850"/>
<path d="M436.6 226.3V263.3" stroke="#dcd850" stroke-width="1"/>
<text x="429.2" y="233.1" font-size="8.3" fill="#7a7a18" text-anchor="start" font-family="Liberation Mono, monospace" >0</text>
<text x="439.0" y="233.1" font-size="8.3" fill="#505000" text-anchor="start" font-family="Liberation Mono, monospace" >true</text>
<text x="429.2" y="245.7" font-size="8.3" fill="#7a7a18" text-anchor="start" font-family="Liberation Mono, monospace" >1</text>
<text x="439.0" y="245.7" font-size="8.3" fill="#505000" text-anchor="start" font-family="Liberation Mono, monospace" >false</text>
<text x="429.2" y="258.2" font-size="8.3" fill="#7a7a18" text-anchor="start" font-family="Liberation Mono, monospace" >2</text>
<text x="439.0" y="258.2" font-size="8.3" fill="#505000" text-anchor="start" font-family="Liberation Mono, monospace" >false</text>
<circle cx="425.6" cy="438.1" r="3.4" fill="#fff" stroke="#111" stroke-width="1.6"/>
<circle cx="491.4" cy="438.1" r="3.4" fill="#fff" stroke="#111" stroke-width="1.6"/>
<rect x="425.6" y="418.6" width="65.8" height="39.0" rx="2" fill="#f8f55a" stroke="#3a3a2a" stroke-width="1.2"/>
<rect x="426.4" y="430.0" width="64.2" height="12.4" fill="#ebe850"/>
<path d="M436.6 419.6V456.6" stroke="#dcd850" stroke-width="1"/>
<text x="429.2" y="426.4" font-size="8.3" fill="#7a7a18" text-anchor="start" font-family="Liberation Mono, monospace" >0</text>
<text x="439.0" y="426.4" font-size="8.3" fill="#505000" text-anchor="start" font-family="Liberation Mono, monospace" >false</text>
<text x="429.2" y="439.0" font-size="8.3" fill="#7a7a18" text-anchor="start" font-family="Liberation Mono, monospace" >1</text>
<text x="439.0" y="439.0" font-size="8.3" fill="#505000" text-anchor="start" font-family="Liberation Mono, monospace" >true</text>
<text x="429.2" y="451.5" font-size="8.3" fill="#7a7a18" text-anchor="start" font-family="Liberation Mono, monospace" >2</text>
<text x="439.0" y="451.5" font-size="8.3" fill="#505000" text-anchor="start" font-family="Liberation Mono, monospace" >false</text>
<circle cx="425.6" cy="625.7" r="3.4" fill="#fff" stroke="#111" stroke-width="1.6"/>
<circle cx="491.4" cy="625.7" r="3.4" fill="#fff" stroke="#111" stroke-width="1.6"/>
<rect x="425.6" y="606.2" width="65.8" height="39.0" rx="2" fill="#f8f55a" stroke="#3a3a2a" stroke-width="1.2"/>
<rect x="426.4" y="617.6" width="64.2" height="12.4" fill="#ebe850"/>
<path d="M436.6 607.2V644.2" stroke="#dcd850" stroke-width="1"/>
<text x="429.2" y="614.0" font-size="8.3" fill="#7a7a18" text-anchor="start" font-family="Liberation Mono, monospace" >0</text>
<text x="439.0" y="614.0" font-size="8.3" fill="#505000" text-anchor="start" font-family="Liberation Mono, monospace" >false</text>
<text x="429.2" y="626.6" font-size="8.3" fill="#7a7a18" text-anchor="start" font-family="Liberation Mono, monospace" >1</text>
<text x="439.0" y="626.6" font-size="8.3" fill="#505000" text-anchor="start" font-family="Liberation Mono, monospace" >false</text>
<text x="429.2" y="639.1" font-size="8.3" fill="#7a7a18" text-anchor="start" font-family="Liberation Mono, monospace" >2</text>
<text x="439.0" y="639.1" font-size="8.3" fill="#505000" text-anchor="start" font-family="Liberation Mono, monospace" >true</text>
<circle cx="542.6" cy="228.5" r="3.4" fill="#fff" stroke="#111" stroke-width="1.6"/>
<circle cx="542.6" cy="244.1" r="3.4" fill="#fff" stroke="#111" stroke-width="1.6"/>
<circle cx="639.8" cy="236.0" r="3.4" fill="#fff" stroke="#111" stroke-width="1.6"/>
<rect x="542.6" y="218.6" width="97.2" height="34.9" rx="3.5" fill="url(#gGray)" stroke="#2c2c2c" stroke-width="1.4"/>
<path d="M545.1 219.9H637.3" stroke="#d0d0d8" stroke-opacity="0.7" stroke-width="1"/>
<text x="591.3" y="231.1" font-size="8.4" fill="#2a2a2a" text-anchor="end" font-family="Liberation Sans, sans-serif" >List</text>
<text x="591.3" y="246.7" font-size="8.4" fill="#2a2a2a" text-anchor="end" font-family="Liberation Sans, sans-serif" >Cull Pattern</text>
<text x="618.8" y="238.6" font-size="8.4" fill="#2a2a2a" text-anchor="start" font-family="Liberation Sans, sans-serif" >List</text>
<rect x="598.0" y="228.7" width="2.9" height="2.6" fill="#000"/>
<rect x="600.9" y="228.7" width="2.9" height="2.6" fill="#fff"/>
<rect x="598.0" y="231.3" width="2.9" height="2.6" fill="#fff"/>
<rect x="600.9" y="231.3" width="2.9" height="2.6" fill="#000"/>
<rect x="598.0" y="233.9" width="2.9" height="2.6" fill="#000"/>
<rect x="600.9" y="233.9" width="2.9" height="2.6" fill="#fff"/>
<rect x="598.0" y="236.5" width="2.9" height="2.6" fill="#fff"/>
<rect x="600.9" y="236.5" width="2.9" height="2.6" fill="#000"/>
<rect x="598.0" y="239.1" width="2.9" height="2.6" fill="#000"/>
<rect x="600.9" y="239.1" width="2.9" height="2.6" fill="#fff"/>
<path d="M604.2 234.5L611 241.39999999999998M611 234.5L604.2 241.39999999999998" stroke="#c00800" stroke-width="3.2" stroke-linecap="round"/><path d="M604.2 234.5L611 241.39999999999998M611 234.5L604.2 241.39999999999998" stroke="#ff2a10" stroke-width="2" stroke-linecap="round"/>
<circle cx="542.6" cy="301.4" r="3.4" fill="#fff" stroke="#111" stroke-width="1.6"/>
<circle cx="542.6" cy="317.0" r="3.4" fill="#fff" stroke="#111" stroke-width="1.6"/>
<circle cx="639.8" cy="308.9" r="3.4" fill="#fff" stroke="#111" stroke-width="1.6"/>
<rect x="542.6" y="291.5" width="97.2" height="34.9" rx="3.5" fill="url(#gGray)" stroke="#2c2c2c" stroke-width="1.4"/>
<path d="M545.1 292.8H637.3" stroke="#d0d0d8" stroke-opacity="0.7" stroke-width="1"/>
<text x="591.3" y="304.0" font-size="8.4" fill="#2a2a2a" text-anchor="end" font-family="Liberation Sans, sans-serif" >List</text>
<text x="591.3" y="319.6" font-size="8.4" fill="#2a2a2a" text-anchor="end" font-family="Liberation Sans, sans-serif" >Cull Pattern</text>
<text x="618.8" y="311.5" font-size="8.4" fill="#2a2a2a" text-anchor="start" font-family="Liberation Sans, sans-serif" >List</text>
<rect x="598.0" y="301.6" width="2.9" height="2.6" fill="#000"/>
<rect x="600.9" y="301.6" width="2.9" height="2.6" fill="#fff"/>
<rect x="598.0" y="304.2" width="2.9" height="2.6" fill="#fff"/>
<rect x="600.9" y="304.2" width="2.9" height="2.6" fill="#000"/>
<rect x="598.0" y="306.8" width="2.9" height="2.6" fill="#000"/>
<rect x="600.9" y="306.8" width="2.9" height="2.6" fill="#fff"/>
<rect x="598.0" y="309.4" width="2.9" height="2.6" fill="#fff"/>
<rect x="600.9" y="309.4" width="2.9" height="2.6" fill="#000"/>
<rect x="598.0" y="312.0" width="2.9" height="2.6" fill="#000"/>
<rect x="600.9" y="312.0" width="2.9" height="2.6" fill="#fff"/>
<path d="M604.2 307.40000000000003L611 314.3M611 307.40000000000003L604.2 314.3" stroke="#c00800" stroke-width="3.2" stroke-linecap="round"/><path d="M604.2 307.40000000000003L611 314.3M611 307.40000000000003L604.2 314.3" stroke="#ff2a10" stroke-width="2" stroke-linecap="round"/>
<circle cx="542.6" cy="421.3" r="3.4" fill="#fff" stroke="#111" stroke-width="1.6"/>
<circle cx="542.6" cy="436.9" r="3.4" fill="#fff" stroke="#111" stroke-width="1.6"/>
<circle cx="639.8" cy="428.8" r="3.4" fill="#fff" stroke="#111" stroke-width="1.6"/>
<rect x="542.6" y="411.4" width="97.2" height="34.9" rx="3.5" fill="url(#gGray)" stroke="#2c2c2c" stroke-width="1.4"/>
<path d="M545.1 412.7H637.3" stroke="#d0d0d8" stroke-opacity="0.7" stroke-width="1"/>
<text x="591.3" y="423.9" font-size="8.4" fill="#2a2a2a" text-anchor="end" font-family="Liberation Sans, sans-serif" >List</text>
<text x="591.3" y="439.5" font-size="8.4" fill="#2a2a2a" text-anchor="end" font-family="Liberation Sans, sans-serif" >Cull Pattern</text>
<text x="618.8" y="431.4" font-size="8.4" fill="#2a2a2a" text-anchor="start" font-family="Liberation Sans, sans-serif" >List</text>
<rect x="598.0" y="421.5" width="2.9" height="2.6" fill="#000"/>
<rect x="600.9" y="421.5" width="2.9" height="2.6" fill="#fff"/>
<rect x="598.0" y="424.1" width="2.9" height="2.6" fill="#fff"/>
<rect x="600.9" y="424.1" width="2.9" height="2.6" fill="#000"/>
<rect x="598.0" y="426.7" width="2.9" height="2.6" fill="#000"/>
<rect x="600.9" y="426.7" width="2.9" height="2.6" fill="#fff"/>
<rect x="598.0" y="429.3" width="2.9" height="2.6" fill="#fff"/>
<rect x="600.9" y="429.3" width="2.9" height="2.6" fill="#000"/>
<rect x="598.0" y="431.9" width="2.9" height="2.6" fill="#000"/>
<rect x="600.9" y="431.9" width="2.9" height="2.6" fill="#fff"/>
<path d="M604.2 427.3L611 434.2M611 427.3L604.2 434.2" stroke="#c00800" stroke-width="3.2" stroke-linecap="round"/><path d="M604.2 427.3L611 434.2M611 427.3L604.2 434.2" stroke="#ff2a10" stroke-width="2" stroke-linecap="round"/>
<circle cx="542.6" cy="488.0" r="3.4" fill="#fff" stroke="#111" stroke-width="1.6"/>
<circle cx="542.6" cy="503.6" r="3.4" fill="#fff" stroke="#111" stroke-width="1.6"/>
<circle cx="639.8" cy="495.5" r="3.4" fill="#fff" stroke="#111" stroke-width="1.6"/>
<rect x="542.6" y="478.1" width="97.2" height="34.9" rx="3.5" fill="url(#gGray)" stroke="#2c2c2c" stroke-width="1.4"/>
<path d="M545.1 479.4H637.3" stroke="#d0d0d8" stroke-opacity="0.7" stroke-width="1"/>
<text x="591.3" y="490.6" font-size="8.4" fill="#2a2a2a" text-anchor="end" font-family="Liberation Sans, sans-serif" >List</text>
<text x="591.3" y="506.2" font-size="8.4" fill="#2a2a2a" text-anchor="end" font-family="Liberation Sans, sans-serif" >Cull Pattern</text>
<text x="618.8" y="498.1" font-size="8.4" fill="#2a2a2a" text-anchor="start" font-family="Liberation Sans, sans-serif" >List</text>
<rect x="598.0" y="488.2" width="2.9" height="2.6" fill="#000"/>
<rect x="600.9" y="488.2" width="2.9" height="2.6" fill="#fff"/>
<rect x="598.0" y="490.8" width="2.9" height="2.6" fill="#fff"/>
<rect x="600.9" y="490.8" width="2.9" height="2.6" fill="#000"/>
<rect x="598.0" y="493.4" width="2.9" height="2.6" fill="#000"/>
<rect x="600.9" y="493.4" width="2.9" height="2.6" fill="#fff"/>
<rect x="598.0" y="496.0" width="2.9" height="2.6" fill="#fff"/>
<rect x="600.9" y="496.0" width="2.9" height="2.6" fill="#000"/>
<rect x="598.0" y="498.6" width="2.9" height="2.6" fill="#000"/>
<rect x="600.9" y="498.6" width="2.9" height="2.6" fill="#fff"/>
<path d="M604.2 494.00000000000006L611 500.90000000000003M611 494.00000000000006L604.2 500.90000000000003" stroke="#c00800" stroke-width="3.2" stroke-linecap="round"/><path d="M604.2 494.00000000000006L611 500.90000000000003M611 494.00000000000006L604.2 500.90000000000003" stroke="#ff2a10" stroke-width="2" stroke-linecap="round"/>
<circle cx="542.6" cy="608.9" r="3.4" fill="#fff" stroke="#111" stroke-width="1.6"/>
<circle cx="542.6" cy="624.5" r="3.4" fill="#fff" stroke="#111" stroke-width="1.6"/>
<circle cx="639.8" cy="616.4" r="3.4" fill="#fff" stroke="#111" stroke-width="1.6"/>
<rect x="542.6" y="599.0" width="97.2" height="34.9" rx="3.5" fill="url(#gGray)" stroke="#2c2c2c" stroke-width="1.4"/>
<path d="M545.1 600.3H637.3" stroke="#d0d0d8" stroke-opacity="0.7" stroke-width="1"/>
<text x="591.3" y="611.5" font-size="8.4" fill="#2a2a2a" text-anchor="end" font-family="Liberation Sans, sans-serif" >List</text>
<text x="591.3" y="627.1" font-size="8.4" fill="#2a2a2a" text-anchor="end" font-family="Liberation Sans, sans-serif" >Cull Pattern</text>
<text x="618.8" y="619.0" font-size="8.4" fill="#2a2a2a" text-anchor="start" font-family="Liberation Sans, sans-serif" >List</text>
<rect x="598.0" y="609.1" width="2.9" height="2.6" fill="#000"/>
<rect x="600.9" y="609.1" width="2.9" height="2.6" fill="#fff"/>
<rect x="598.0" y="611.7" width="2.9" height="2.6" fill="#fff"/>
<rect x="600.9" y="611.7" width="2.9" height="2.6" fill="#000"/>
<rect x="598.0" y="614.3" width="2.9" height="2.6" fill="#000"/>
<rect x="600.9" y="614.3" width="2.9" height="2.6" fill="#fff"/>
<rect x="598.0" y="616.9" width="2.9" height="2.6" fill="#fff"/>
<rect x="600.9" y="616.9" width="2.9" height="2.6" fill="#000"/>
<rect x="598.0" y="619.5" width="2.9" height="2.6" fill="#000"/>
<rect x="600.9" y="619.5" width="2.9" height="2.6" fill="#fff"/>
<path d="M604.2 614.9L611 621.8000000000001M611 614.9L604.2 621.8000000000001" stroke="#c00800" stroke-width="3.2" stroke-linecap="round"/><path d="M604.2 614.9L611 621.8000000000001M611 614.9L604.2 621.8000000000001" stroke="#ff2a10" stroke-width="2" stroke-linecap="round"/>
<circle cx="542.6" cy="692.5" r="3.4" fill="#fff" stroke="#111" stroke-width="1.6"/>
<circle cx="542.6" cy="708.1" r="3.4" fill="#fff" stroke="#111" stroke-width="1.6"/>
<circle cx="639.8" cy="700.0" r="3.4" fill="#fff" stroke="#111" stroke-width="1.6"/>
<rect x="542.6" y="682.6" width="97.2" height="34.9" rx="3.5" fill="url(#gGray)" stroke="#2c2c2c" stroke-width="1.4"/>
<path d="M545.1 683.9H637.3" stroke="#d0d0d8" stroke-opacity="0.7" stroke-width="1"/>
<text x="591.3" y="695.1" font-size="8.4" fill="#2a2a2a" text-anchor="end" font-family="Liberation Sans, sans-serif" >List</text>
<text x="591.3" y="710.7" font-size="8.4" fill="#2a2a2a" text-anchor="end" font-family="Liberation Sans, sans-serif" >Cull Pattern</text>
<text x="618.8" y="702.6" font-size="8.4" fill="#2a2a2a" text-anchor="start" font-family="Liberation Sans, sans-serif" >List</text>
<rect x="598.0" y="692.7" width="2.9" height="2.6" fill="#000"/>
<rect x="600.9" y="692.7" width="2.9" height="2.6" fill="#fff"/>
<rect x="598.0" y="695.3" width="2.9" height="2.6" fill="#fff"/>
<rect x="600.9" y="695.3" width="2.9" height="2.6" fill="#000"/>
<rect x="598.0" y="697.9" width="2.9" height="2.6" fill="#000"/>
<rect x="600.9" y="697.9" width="2.9" height="2.6" fill="#fff"/>
<rect x="598.0" y="700.5" width="2.9" height="2.6" fill="#fff"/>
<rect x="600.9" y="700.5" width="2.9" height="2.6" fill="#000"/>
<rect x="598.0" y="703.1" width="2.9" height="2.6" fill="#000"/>
<rect x="600.9" y="703.1" width="2.9" height="2.6" fill="#fff"/>
<path d="M604.2 698.5L611 705.4000000000001M611 698.5L604.2 705.4000000000001" stroke="#c00800" stroke-width="3.2" stroke-linecap="round"/><path d="M604.2 698.5L611 705.4000000000001M611 698.5L604.2 705.4000000000001" stroke="#ff2a10" stroke-width="2" stroke-linecap="round"/>
<circle cx="701.6" cy="262.2" r="3.4" fill="#fff" stroke="#111" stroke-width="1.6"/>
<circle cx="785.6" cy="262.2" r="3.4" fill="#fff" stroke="#111" stroke-width="1.6"/>
<rect x="701.6" y="251.2" width="84.0" height="22.3" rx="3.5" fill="url(#gGray)" stroke="#2c2c2c" stroke-width="1.4"/>
<path d="M704.1 252.5H783.1" stroke="#d0d0d8" stroke-opacity="0.7" stroke-width="1"/>
<text x="730.0" y="264.8" font-size="8.4" fill="#2a2a2a" text-anchor="end" font-family="Liberation Sans, sans-serif" >Origin</text>
<text x="757.0" y="264.8" font-size="8.4" fill="#2a2a2a" text-anchor="start" font-family="Liberation Sans, sans-serif" >Plane</text>
<path d="M737 255.7L742 258.7V264.7L737 268.7Z" fill="#ffb000" stroke="#e04000" stroke-width="1.2"/>
<text x="742" y="265.2" font-size="8" font-weight="bold" fill="#222" font-family="Liberation Sans, sans-serif">YZ</text>
<circle cx="701.6" cy="465.2" r="3.4" fill="#fff" stroke="#111" stroke-width="1.6"/>
<circle cx="785.6" cy="465.2" r="3.4" fill="#fff" stroke="#111" stroke-width="1.6"/>
<rect x="701.6" y="454.2" width="84.0" height="22.3" rx="3.5" fill="url(#gGray)" stroke="#2c2c2c" stroke-width="1.4"/>
<path d="M704.1 455.5H783.1" stroke="#d0d0d8" stroke-opacity="0.7" stroke-width="1"/>
<text x="730.0" y="467.8" font-size="8.4" fill="#2a2a2a" text-anchor="end" font-family="Liberation Sans, sans-serif" >Origin</text>
<text x="757.0" y="467.8" font-size="8.4" fill="#2a2a2a" text-anchor="start" font-family="Liberation Sans, sans-serif" >Plane</text>
<path d="M737 458.7L742 461.7V467.7L737 471.7Z" fill="#ffb000" stroke="#e04000" stroke-width="1.2"/>
<text x="742" y="468.2" font-size="8" font-weight="bold" fill="#222" font-family="Liberation Sans, sans-serif">YZ</text>
<circle cx="701.6" cy="657.1" r="3.4" fill="#fff" stroke="#111" stroke-width="1.6"/>
<circle cx="785.6" cy="657.1" r="3.4" fill="#fff" stroke="#111" stroke-width="1.6"/>
<rect x="701.6" y="646.1" width="84.0" height="22.3" rx="3.5" fill="url(#gGray)" stroke="#2c2c2c" stroke-width="1.4"/>
<path d="M704.1 647.4H783.1" stroke="#d0d0d8" stroke-opacity="0.7" stroke-width="1"/>
<text x="730.0" y="659.7" font-size="8.4" fill="#2a2a2a" text-anchor="end" font-family="Liberation Sans, sans-serif" >Origin</text>
<text x="757.0" y="659.7" font-size="8.4" fill="#2a2a2a" text-anchor="start" font-family="Liberation Sans, sans-serif" >Plane</text>
<path d="M737 650.6L742 653.6V659.6L737 663.6Z" fill="#ffb000" stroke="#e04000" stroke-width="1.2"/>
<text x="742" y="660.1" font-size="8" font-weight="bold" fill="#222" font-family="Liberation Sans, sans-serif">YZ</text>
<circle cx="824.1" cy="246.2" r="3.4" fill="#fff" stroke="#111" stroke-width="1.6"/>
<circle cx="824.1" cy="262.0" r="3.4" fill="#fff" stroke="#111" stroke-width="1.6"/>
<circle cx="824.1" cy="277.9" r="3.4" fill="#fff" stroke="#111" stroke-width="1.6"/>
<circle cx="940.7" cy="250.2" r="3.4" fill="#fff" stroke="#111" stroke-width="1.6"/>
<circle cx="940.7" cy="273.9" r="3.4" fill="#fff" stroke="#111" stroke-width="1.6"/>
<rect x="824.1" y="236.9" width="116.6" height="50.3" rx="3.5" fill="url(#gGray)" stroke="#2c2c2c" stroke-width="1.4"/>
<path d="M826.6 238.2H938.2" stroke="#d0d0d8" stroke-opacity="0.7" stroke-width="1"/>
<text x="866.6" y="248.8" font-size="8.4" fill="#2a2a2a" text-anchor="end" font-family="Liberation Sans, sans-serif" >Geometry</text>
<text x="866.6" y="264.6" font-size="8.4" fill="#2a2a2a" text-anchor="end" font-family="Liberation Sans, sans-serif" >Source</text>
<text x="866.6" y="280.5" font-size="8.4" fill="#2a2a2a" text-anchor="end" font-family="Liberation Sans, sans-serif" >Target</text>
<text x="893.8" y="252.8" font-size="8.4" fill="#2a2a2a" text-anchor="start" font-family="Liberation Sans, sans-serif" >Geometry</text>
<text x="893.8" y="276.5" font-size="8.4" fill="#2a2a2a" text-anchor="start" font-family="Liberation Sans, sans-serif" >Transform</text>
<rect x="872.8" y="261.6" width="6" height="6" fill="#ffc000" stroke="#d04000" stroke-width="1.1"/>
<path d="M881.8 259.6L886.3 255.6V267.6L881.8 264.6Z" fill="#ffc000" stroke="#d04000" stroke-width="1.1"/>
<path d="M875.3 261.6Q875.3 255.6 881.3 256.6" stroke="#111" stroke-width="1.3" fill="none"/>
<path d="M880.3 254.6L882.8 256.6L880.3 258.6Z" fill="#111"/>
<circle cx="824.1" cy="449.4" r="3.4" fill="#fff" stroke="#111" stroke-width="1.6"/>
<circle cx="824.1" cy="465.2" r="3.4" fill="#fff" stroke="#111" stroke-width="1.6"/>
<circle cx="824.1" cy="481.1" r="3.4" fill="#fff" stroke="#111" stroke-width="1.6"/>
<circle cx="940.7" cy="453.4" r="3.4" fill="#fff" stroke="#111" stroke-width="1.6"/>
<circle cx="940.7" cy="477.1" r="3.4" fill="#fff" stroke="#111" stroke-width="1.6"/>
<rect x="824.1" y="440.1" width="116.6" height="50.3" rx="3.5" fill="url(#gGray)" stroke="#2c2c2c" stroke-width="1.4"/>
<path d="M826.6 441.4H938.2" stroke="#d0d0d8" stroke-opacity="0.7" stroke-width="1"/>
<text x="866.6" y="452.0" font-size="8.4" fill="#2a2a2a" text-anchor="end" font-family="Liberation Sans, sans-serif" >Geometry</text>
<text x="866.6" y="467.8" font-size="8.4" fill="#2a2a2a" text-anchor="end" font-family="Liberation Sans, sans-serif" >Source</text>
<text x="866.6" y="483.7" font-size="8.4" fill="#2a2a2a" text-anchor="end" font-family="Liberation Sans, sans-serif" >Target</text>
<text x="893.8" y="456.0" font-size="8.4" fill="#2a2a2a" text-anchor="start" font-family="Liberation Sans, sans-serif" >Geometry</text>
<text x="893.8" y="479.7" font-size="8.4" fill="#2a2a2a" text-anchor="start" font-family="Liberation Sans, sans-serif" >Transform</text>
<rect x="872.8" y="464.8" width="6" height="6" fill="#ffc000" stroke="#d04000" stroke-width="1.1"/>
<path d="M881.8 462.8L886.3 458.8V470.8L881.8 467.8Z" fill="#ffc000" stroke="#d04000" stroke-width="1.1"/>
<path d="M875.3 464.8Q875.3 458.8 881.3 459.8" stroke="#111" stroke-width="1.3" fill="none"/>
<path d="M880.3 457.8L882.8 459.8L880.3 461.8Z" fill="#111"/>
<circle cx="824.1" cy="641.4" r="3.4" fill="#fff" stroke="#111" stroke-width="1.6"/>
<circle cx="824.1" cy="657.2" r="3.4" fill="#fff" stroke="#111" stroke-width="1.6"/>
<circle cx="824.1" cy="673.1" r="3.4" fill="#fff" stroke="#111" stroke-width="1.6"/>
<circle cx="940.7" cy="645.4" r="3.4" fill="#fff" stroke="#111" stroke-width="1.6"/>
<circle cx="940.7" cy="669.1" r="3.4" fill="#fff" stroke="#111" stroke-width="1.6"/>
<rect x="824.1" y="632.1" width="116.6" height="50.3" rx="3.5" fill="url(#gGray)" stroke="#2c2c2c" stroke-width="1.4"/>
<path d="M826.6 633.4H938.2" stroke="#d0d0d8" stroke-opacity="0.7" stroke-width="1"/>
<text x="866.6" y="644.0" font-size="8.4" fill="#2a2a2a" text-anchor="end" font-family="Liberation Sans, sans-serif" >Geometry</text>
<text x="866.6" y="659.8" font-size="8.4" fill="#2a2a2a" text-anchor="end" font-family="Liberation Sans, sans-serif" >Source</text>
<text x="866.6" y="675.7" font-size="8.4" fill="#2a2a2a" text-anchor="end" font-family="Liberation Sans, sans-serif" >Target</text>
<text x="893.8" y="648.0" font-size="8.4" fill="#2a2a2a" text-anchor="start" font-family="Liberation Sans, sans-serif" >Geometry</text>
<text x="893.8" y="671.7" font-size="8.4" fill="#2a2a2a" text-anchor="start" font-family="Liberation Sans, sans-serif" >Transform</text>
<rect x="872.8" y="656.8000000000001" width="6" height="6" fill="#ffc000" stroke="#d04000" stroke-width="1.1"/>
<path d="M881.8 654.8000000000001L886.3 650.8000000000001V662.8000000000001L881.8 659.8000000000001Z" fill="#ffc000" stroke="#d04000" stroke-width="1.1"/>
<path d="M875.3 656.8000000000001Q875.3 650.8000000000001 881.3 651.8000000000001" stroke="#111" stroke-width="1.3" fill="none"/>
<path d="M880.3 649.8000000000001L882.8 651.8000000000001L880.3 653.8000000000001Z" fill="#111"/>
<circle cx="1129.5" cy="267.2" r="3.4" fill="#fff" stroke="#111" stroke-width="1.6"/>
<rect x="968.4" y="259.5" width="161.1" height="15.5" rx="3" fill="url(#gSlide)" stroke="#2c2c2c" stroke-width="1.3"/>
<path d="M969.1 263.0Q969.1 260.2 971.9 260.2H1034.9V274.3H971.9Q969.1 274.3 969.1 271.5Z" fill="url(#gGray)"/>
<path d="M1034.9 260.0V274.5" stroke="#2c2c2c" stroke-width="1.2"/>
<text x="973.4" y="269.6" font-size="8.4" fill="#222" text-anchor="start" font-family="Liberation Sans, sans-serif" >Number Slider</text>
<path d="M1042.0 267.4H1122.0 M1042.0 267.4V263.4 M1050.0 267.4V265.4 M1058.0 267.4V265.4 M1066.0 267.4V265.4 M1074.0 267.4V265.4 M1082.0 267.4V265.4 M1090.0 267.4V265.4 M1098.0 267.4V265.4 M1106.0 267.4V265.4 M1114.0 267.4V265.4 M1122.0 267.4V263.4" stroke="#9a9a9a" stroke-width="0.8" fill="none"/>
<path d="M1110.0 267.2L1113.0 264.2L1116.0 267.2L1113.0 270.2Z" fill="#fff" stroke="#111" stroke-width="1.2"/>
<text x="1106.0" y="270.1" font-size="8.4" fill="#444" text-anchor="end" font-family="Liberation Sans, sans-serif" >90</text>
<circle cx="1129.5" cy="470.1" r="3.4" fill="#fff" stroke="#111" stroke-width="1.6"/>
<rect x="968.4" y="462.3" width="161.1" height="15.5" rx="3" fill="url(#gSlide)" stroke="#2c2c2c" stroke-width="1.3"/>
<path d="M969.1 465.8Q969.1 463.0 971.9 463.0H1034.9V477.1H971.9Q969.1 477.1 969.1 474.3Z" fill="url(#gGray)"/>
<path d="M1034.9 462.8V477.3" stroke="#2c2c2c" stroke-width="1.2"/>
<text x="973.4" y="472.4" font-size="8.4" fill="#222" text-anchor="start" font-family="Liberation Sans, sans-serif" >Number Slider</text>
<path d="M1042.0 470.2H1122.0 M1042.0 470.2V466.2 M1050.0 470.2V468.2 M1058.0 470.2V468.2 M1066.0 470.2V468.2 M1074.0 470.2V468.2 M1082.0 470.2V468.2 M1090.0 470.2V468.2 M1098.0 470.2V468.2 M1106.0 470.2V468.2 M1114.0 470.2V468.2 M1122.0 470.2V466.2" stroke="#9a9a9a" stroke-width="0.8" fill="none"/>
<path d="M1110.0 470.1L1113.0 467.1L1116.0 470.1L1113.0 473.1Z" fill="#fff" stroke="#111" stroke-width="1.2"/>
<text x="1106.0" y="472.9" font-size="8.4" fill="#444" text-anchor="end" font-family="Liberation Sans, sans-serif" >90</text>
<circle cx="1129.5" cy="662.0" r="3.4" fill="#fff" stroke="#111" stroke-width="1.6"/>
<rect x="968.4" y="654.2" width="161.1" height="15.5" rx="3" fill="url(#gSlide)" stroke="#2c2c2c" stroke-width="1.3"/>
<path d="M969.1 657.7Q969.1 654.9 971.9 654.9H1034.9V669.0H971.9Q969.1 669.0 969.1 666.2Z" fill="url(#gGray)"/>
<path d="M1034.9 654.7V669.2" stroke="#2c2c2c" stroke-width="1.2"/>
<text x="973.4" y="664.2" font-size="8.4" fill="#222" text-anchor="start" font-family="Liberation Sans, sans-serif" >Number Slider</text>
<path d="M1042.0 662.2H1122.0 M1042.0 662.2V658.2 M1050.0 662.2V660.2 M1058.0 662.2V660.2 M1066.0 662.2V660.2 M1074.0 662.2V660.2 M1082.0 662.2V660.2 M1090.0 662.2V660.2 M1098.0 662.2V660.2 M1106.0 662.2V660.2 M1114.0 662.2V660.2 M1122.0 662.2V658.2" stroke="#9a9a9a" stroke-width="0.8" fill="none"/>
<path d="M1110.0 662.0L1113.0 659.0L1116.0 662.0L1113.0 665.0Z" fill="#fff" stroke="#111" stroke-width="1.2"/>
<text x="1106.0" y="664.8" font-size="8.4" fill="#444" text-anchor="end" font-family="Liberation Sans, sans-serif" >90</text>
<circle cx="1168.6" cy="250.3" r="3.4" fill="#fff" stroke="#111" stroke-width="1.6"/>
<circle cx="1168.6" cy="266.1" r="3.4" fill="#fff" stroke="#111" stroke-width="1.6"/>
<circle cx="1168.6" cy="281.8" r="3.4" fill="#fff" stroke="#111" stroke-width="1.6"/>
<circle cx="1314.5" cy="254.4" r="3.4" fill="#fff" stroke="#111" stroke-width="1.6"/>
<circle cx="1314.5" cy="278.1" r="3.4" fill="#fff" stroke="#111" stroke-width="1.6"/>
<rect x="1168.6" y="240.4" width="145.9" height="51.0" rx="3.5" fill="url(#gGray)" stroke="#2c2c2c" stroke-width="1.4"/>
<path d="M1171.1 241.7H1312.0" stroke="#d0d0d8" stroke-opacity="0.7" stroke-width="1"/>
<text x="1240.0" y="252.9" font-size="8.4" fill="#2a2a2a" text-anchor="end" font-family="Liberation Sans, sans-serif" >Geometry</text>
<text x="1240.0" y="268.7" font-size="8.4" fill="#2a2a2a" text-anchor="end" font-family="Liberation Sans, sans-serif" >Angle</text>
<text x="1240.0" y="284.4" font-size="8.4" fill="#2a2a2a" text-anchor="end" font-family="Liberation Sans, sans-serif" >Plane</text>
<text x="1266.8" y="257.0" font-size="8.4" fill="#2a2a2a" text-anchor="start" font-family="Liberation Sans, sans-serif" >Geometry</text>
<text x="1266.8" y="280.7" font-size="8.4" fill="#2a2a2a" text-anchor="start" font-family="Liberation Sans, sans-serif" >Transform</text>
<rect x="1170.8" y="260.2" width="11" height="11.3" rx="2.2" fill="url(#gBox)" stroke="#3a3a3a" stroke-width="0.9"/>
<rect x="1186.3" y="260.2" width="11" height="11.3" rx="2.2" fill="url(#gBox)" stroke="#3a3a3a" stroke-width="0.9"/>
<circle cx="1176.6" cy="264.4" r="1.7" fill="none" stroke="#888" stroke-width="1"/>
<path d="M1191.8 262.7V269.2M1188.8 264.2L1194.8 267.7M1194.8 264.2L1188.8 267.7" stroke="#555" stroke-width="1.3"/>
<path d="M1259.8 262.40000000000003A6.5 2.7 0 1 0 1247 262.0A6.5 2.7 0 0 0 1254 264.7" stroke="#111" stroke-width="1.5" fill="none"/>
<path d="M1253.8 262.7L1257.2 264.7L1253.8 266.7Z" fill="#111"/>
<path d="M1246.8 271.40000000000003L1249.6 266.8H1257.8L1260.6 271.40000000000003Z" fill="#ffc400" stroke="#c43000" stroke-width="1"/>
<path d="M1249.5 269.3H1258" stroke="#ffe060" stroke-width="0.8"/>
<circle cx="1168.6" cy="454.2" r="3.4" fill="#fff" stroke="#111" stroke-width="1.6"/>
<circle cx="1168.6" cy="470.0" r="3.4" fill="#fff" stroke="#111" stroke-width="1.6"/>
<circle cx="1168.6" cy="485.7" r="3.4" fill="#fff" stroke="#111" stroke-width="1.6"/>
<circle cx="1314.5" cy="458.3" r="3.4" fill="#fff" stroke="#111" stroke-width="1.6"/>
<circle cx="1314.5" cy="482.0" r="3.4" fill="#fff" stroke="#111" stroke-width="1.6"/>
<rect x="1168.6" y="444.3" width="145.9" height="51.0" rx="3.5" fill="url(#gGray)" stroke="#2c2c2c" stroke-width="1.4"/>
<path d="M1171.1 445.6H1312.0" stroke="#d0d0d8" stroke-opacity="0.7" stroke-width="1"/>
<text x="1240.0" y="456.8" font-size="8.4" fill="#2a2a2a" text-anchor="end" font-family="Liberation Sans, sans-serif" >Geometry</text>
<text x="1240.0" y="472.6" font-size="8.4" fill="#2a2a2a" text-anchor="end" font-family="Liberation Sans, sans-serif" >Angle</text>
<text x="1240.0" y="488.3" font-size="8.4" fill="#2a2a2a" text-anchor="end" font-family="Liberation Sans, sans-serif" >Plane</text>
<text x="1266.8" y="460.9" font-size="8.4" fill="#2a2a2a" text-anchor="start" font-family="Liberation Sans, sans-serif" >Geometry</text>
<text x="1266.8" y="484.6" font-size="8.4" fill="#2a2a2a" text-anchor="start" font-family="Liberation Sans, sans-serif" >Transform</text>
<rect x="1170.8" y="464.1" width="11" height="11.3" rx="2.2" fill="url(#gBox)" stroke="#3a3a3a" stroke-width="0.9"/>
<rect x="1186.3" y="464.1" width="11" height="11.3" rx="2.2" fill="url(#gBox)" stroke="#3a3a3a" stroke-width="0.9"/>
<circle cx="1176.6" cy="468.3" r="1.7" fill="none" stroke="#888" stroke-width="1"/>
<path d="M1191.8 466.6V473.1M1188.8 468.1L1194.8 471.6M1194.8 468.1L1188.8 471.6" stroke="#555" stroke-width="1.3"/>
<path d="M1259.8 466.3A6.5 2.7 0 1 0 1247 465.9A6.5 2.7 0 0 0 1254 468.59999999999997" stroke="#111" stroke-width="1.5" fill="none"/>
<path d="M1253.8 466.59999999999997L1257.2 468.59999999999997L1253.8 470.59999999999997Z" fill="#111"/>
<path d="M1246.8 475.3L1249.6 470.7H1257.8L1260.6 475.3Z" fill="#ffc400" stroke="#c43000" stroke-width="1"/>
<path d="M1249.5 473.2H1258" stroke="#ffe060" stroke-width="0.8"/>
<circle cx="1168.6" cy="646.5" r="3.4" fill="#fff" stroke="#111" stroke-width="1.6"/>
<circle cx="1168.6" cy="662.3" r="3.4" fill="#fff" stroke="#111" stroke-width="1.6"/>
<circle cx="1168.6" cy="678.0" r="3.4" fill="#fff" stroke="#111" stroke-width="1.6"/>
<circle cx="1314.5" cy="650.6" r="3.4" fill="#fff" stroke="#111" stroke-width="1.6"/>
<circle cx="1314.5" cy="674.3" r="3.4" fill="#fff" stroke="#111" stroke-width="1.6"/>
<rect x="1168.6" y="636.6" width="145.9" height="51.0" rx="3.5" fill="url(#gGray)" stroke="#2c2c2c" stroke-width="1.4"/>
<path d="M1171.1 637.9H1312.0" stroke="#d0d0d8" stroke-opacity="0.7" stroke-width="1"/>
<text x="1240.0" y="649.1" font-size="8.4" fill="#2a2a2a" text-anchor="end" font-family="Liberation Sans, sans-serif" >Geometry</text>
<text x="1240.0" y="664.9" font-size="8.4" fill="#2a2a2a" text-anchor="end" font-family="Liberation Sans, sans-serif" >Angle</text>
<text x="1240.0" y="680.6" font-size="8.4" fill="#2a2a2a" text-anchor="end" font-family="Liberation Sans, sans-serif" >Plane</text>
<text x="1266.8" y="653.2" font-size="8.4" fill="#2a2a2a" text-anchor="start" font-family="Liberation Sans, sans-serif" >Geometry</text>
<text x="1266.8" y="676.9" font-size="8.4" fill="#2a2a2a" text-anchor="start" font-family="Liberation Sans, sans-serif" >Transform</text>
<rect x="1170.8" y="656.4" width="11" height="11.3" rx="2.2" fill="url(#gBox)" stroke="#3a3a3a" stroke-width="0.9"/>
<rect x="1186.3" y="656.4" width="11" height="11.3" rx="2.2" fill="url(#gBox)" stroke="#3a3a3a" stroke-width="0.9"/>
<circle cx="1176.6" cy="660.6" r="1.7" fill="none" stroke="#888" stroke-width="1"/>
<path d="M1191.8 658.9V665.4M1188.8 660.4L1194.8 663.9M1194.8 660.4L1188.8 663.9" stroke="#555" stroke-width="1.3"/>
<path d="M1259.8 658.6A6.5 2.7 0 1 0 1247 658.2A6.5 2.7 0 0 0 1254 660.9" stroke="#111" stroke-width="1.5" fill="none"/>
<path d="M1253.8 658.9L1257.2 660.9L1253.8 662.9Z" fill="#111"/>
<path d="M1246.8 667.6L1249.6 663.0H1257.8L1260.6 667.6Z" fill="#ffc400" stroke="#c43000" stroke-width="1"/>
<path d="M1249.5 665.5H1258" stroke="#ffe060" stroke-width="0.8"/>
<circle cx="1685.5" cy="93.5" r="3.4" fill="#fff" stroke="#111" stroke-width="1.6"/>
<rect x="1587.5" y="85.6" width="98" height="15.8" rx="3" fill="url(#gGray)" stroke="#2c2c2c" stroke-width="1.3"/>
<path d="M1654.1 86.19999999999999H1682.5Q1684.9 86.19999999999999 1684.9 88.6V98.39999999999999Q1684.9 100.8 1682.5 100.8H1654.1Z" fill="#fc0808"/>
<path d="M1654.1 86.1V100.89999999999999" stroke="#2c2c2c" stroke-width="1.2"/>
<text x="1592.6" y="96.1" font-size="8.4" fill="#222" text-anchor="start" font-family="Liberation Sans, sans-serif" >Colour Swatch</text>
<circle cx="1704.3" cy="77.6" r="3.4" fill="#fff" stroke="#111" stroke-width="1.6"/>
<circle cx="1704.3" cy="93.4" r="3.4" fill="#fff" stroke="#111" stroke-width="1.6"/>
<path d="M1707.3 68.8H1772.5L1776.0 73.4L1772.5 76.6L1776.0 79.7L1772.5 82.9L1776.0 86.0L1772.5 89.1L1776.0 92.3L1772.5 95.4L1776.0 98.6L1772.5 101.7L1776.0 103.2H1707.3Q1704.3 103.2 1704.3 100.2V71.8Q1704.3 68.8 1707.3 68.8Z" fill="url(#gLight)" stroke="#2c2c2c" stroke-width="1.3"/>
<text x="1747.0" y="80.5" font-size="8.4" fill="#2a2a2a" text-anchor="end" font-family="Liberation Sans, sans-serif" >Geometry</text>
<text x="1747.0" y="96.3" font-size="8.4" fill="#2a2a2a" text-anchor="end" font-family="Liberation Sans, sans-serif" >Material</text>
<clipPath id="pvc1"><rect x="1752.1" y="76.2" width="18.2" height="18.3"/></clipPath>
<rect x="1752.1" y="76.2" width="18.2" height="18.3" fill="url(#gPvBox)"/>
<g clip-path="url(#pvc1)"><circle cx="1765.0" cy="89.8" r="6.6" fill="url(#gBall)" stroke="#143c5a" stroke-width="0.9"/></g>
<rect x="1752.1" y="76.2" width="18.2" height="18.3" fill="none" stroke="#111" stroke-width="1.1"/>
<rect x="1752.6999999999998" y="76.8" width="7.6" height="2.6" fill="#1414f0"/>
<circle cx="1685.5" cy="155.3" r="3.4" fill="#fff" stroke="#111" stroke-width="1.6"/>
<rect x="1587.5" y="147.4" width="98" height="15.8" rx="3" fill="url(#gGray)" stroke="#2c2c2c" stroke-width="1.3"/>
<path d="M1654.1 148.0H1682.5Q1684.9 148.0 1684.9 150.4V160.20000000000002Q1684.9 162.6 1682.5 162.6H1654.1Z" fill="#0aacfc"/>
<path d="M1654.1 147.9V162.70000000000002" stroke="#2c2c2c" stroke-width="1.2"/>
<text x="1592.6" y="157.9" font-size="8.4" fill="#222" text-anchor="start" font-family="Liberation Sans, sans-serif" >Colour Swatch</text>
<circle cx="1704.3" cy="139.1" r="3.4" fill="#fff" stroke="#111" stroke-width="1.6"/>
<circle cx="1704.3" cy="154.9" r="3.4" fill="#fff" stroke="#111" stroke-width="1.6"/>
<path d="M1707.3 130.3H1772.5L1776.0 134.9L1772.5 138.1L1776.0 141.2L1772.5 144.4L1776.0 147.5L1772.5 150.6L1776.0 153.8L1772.5 156.9L1776.0 160.1L1772.5 163.2L1776.0 164.7H1707.3Q1704.3 164.7 1704.3 161.7V133.3Q1704.3 130.3 1707.3 130.3Z" fill="url(#gLight)" stroke="#2c2c2c" stroke-width="1.3"/>
<text x="1747.0" y="142.0" font-size="8.4" fill="#2a2a2a" text-anchor="end" font-family="Liberation Sans, sans-serif" >Geometry</text>
<text x="1747.0" y="157.8" font-size="8.4" fill="#2a2a2a" text-anchor="end" font-family="Liberation Sans, sans-serif" >Material</text>
<clipPath id="pvc2"><rect x="1752.1" y="137.70000000000002" width="18.2" height="18.3"/></clipPath>
<rect x="1752.1" y="137.70000000000002" width="18.2" height="18.3" fill="url(#gPvBox)"/>
<g clip-path="url(#pvc2)"><circle cx="1765.0" cy="151.3" r="6.6" fill="url(#gBall)" stroke="#143c5a" stroke-width="0.9"/></g>
<rect x="1752.1" y="137.70000000000002" width="18.2" height="18.3" fill="none" stroke="#111" stroke-width="1.1"/>
<rect x="1752.6999999999998" y="138.3" width="7.6" height="2.6" fill="#1414f0"/>
<circle cx="1685.5" cy="231.7" r="3.4" fill="#fff" stroke="#111" stroke-width="1.6"/>
<rect x="1587.5" y="223.8" width="98" height="15.8" rx="3" fill="url(#gGray)" stroke="#2c2c2c" stroke-width="1.3"/>
<path d="M1654.1 224.4H1682.5Q1684.9 224.4 1684.9 226.8V236.60000000000002Q1684.9 239.0 1682.5 239.0H1654.1Z" fill="#58f808"/>
<path d="M1654.1 224.3V239.10000000000002" stroke="#2c2c2c" stroke-width="1.2"/>
<text x="1592.6" y="234.3" font-size="8.4" fill="#222" text-anchor="start" font-family="Liberation Sans, sans-serif" >Colour Swatch</text>
<circle cx="1704.3" cy="215.0" r="3.4" fill="#fff" stroke="#111" stroke-width="1.6"/>
<circle cx="1704.3" cy="230.8" r="3.4" fill="#fff" stroke="#111" stroke-width="1.6"/>
<path d="M1707.3 206.2H1772.5L1776.0 210.8L1772.5 214.0L1776.0 217.1L1772.5 220.3L1776.0 223.4L1772.5 226.5L1776.0 229.7L1772.5 232.8L1776.0 236.0L1772.5 239.1L1776.0 240.6H1707.3Q1704.3 240.6 1704.3 237.6V209.2Q1704.3 206.2 1707.3 206.2Z" fill="url(#gLight)" stroke="#2c2c2c" stroke-width="1.3"/>
<text x="1747.0" y="217.9" font-size="8.4" fill="#2a2a2a" text-anchor="end" font-family="Liberation Sans, sans-serif" >Geometry</text>
<text x="1747.0" y="233.7" font-size="8.4" fill="#2a2a2a" text-anchor="end" font-family="Liberation Sans, sans-serif" >Material</text>
<clipPath id="pvc3"><rect x="1752.1" y="213.6" width="18.2" height="18.3"/></clipPath>
<rect x="1752.1" y="213.6" width="18.2" height="18.3" fill="url(#gPvBox)"/>
<g clip-path="url(#pvc3)"><circle cx="1765.0" cy="227.2" r="6.6" fill="url(#gBall)" stroke="#143c5a" stroke-width="0.9"/></g>
<rect x="1752.1" y="213.6" width="18.2" height="18.3" fill="none" stroke="#111" stroke-width="1.1"/>
<rect x="1752.6999999999998" y="214.2" width="7.6" height="2.6" fill="#1414f0"/>
<circle cx="1435.3" cy="441.6" r="3.4" fill="#fff" stroke="#111" stroke-width="1.6"/>
<circle cx="1435.3" cy="457.4" r="3.4" fill="#fff" stroke="#111" stroke-width="1.6"/>
<circle cx="1435.3" cy="473.3" r="3.4" fill="#fff" stroke="#111" stroke-width="1.6"/>
<circle cx="1510.7" cy="457.4" r="3.4" fill="#fff" stroke="#111" stroke-width="1.6"/>
<rect x="1435.3" y="432.2" width="75.4" height="50.6" rx="3.5" fill="url(#gLight)" stroke="#2c2c2c" stroke-width="1.4"/>
<path d="M1437.8 433.5H1508.2" stroke="#d0d0d8" stroke-opacity="0.7" stroke-width="1"/>
<text x="1451.0" y="444.2" font-size="8.4" fill="#2a2a2a" text-anchor="end" font-family="Liberation Sans, sans-serif" >D1</text>
<text x="1451.0" y="460.0" font-size="8.4" fill="#2a2a2a" text-anchor="end" font-family="Liberation Sans, sans-serif" >D2</text>
<text x="1451.0" y="475.9" font-size="8.4" fill="#2a2a2a" text-anchor="end" font-family="Liberation Sans, sans-serif" >D3</text>
<text x="1478.0" y="460.0" font-size="8.4" fill="#2a2a2a" text-anchor="start" font-family="Liberation Sans, sans-serif" >Result</text>
<path d="M1457.5 453.4Q1462.8 456.7 1466.1 456" stroke="#2020ff" stroke-width="1.3" fill="none"/>
<path d="M1458 458Q1463.05 459.0 1466.1 456" stroke="#30c0c0" stroke-width="1.3" fill="none"/>
<path d="M1461 461.5Q1464.55 460.75 1466.1 456" stroke="#40b040" stroke-width="1.3" fill="none"/>
<path d="M1464.4 464.1Q1465.25 459.05 1466.1 456" stroke="#d0a030" stroke-width="1.3" fill="none"/>
<path d="M1469.1 464.6Q1467.6 459.3 1466.1 456" stroke="#e02020" stroke-width="1.3" fill="none"/>
<path d="M1465.1 457L1471 451.5" stroke="#111" stroke-width="2.2"/>
<path d="M1474 448.5L1467.5 450L1472.5 455Z" fill="#111"/>
<circle cx="1672.3" cy="396.6" r="3.4" fill="#fff" stroke="#111" stroke-width="1.6"/>
<rect x="1511.6" y="388.6" width="160.7" height="15.9" rx="3" fill="url(#gSlide)" stroke="#2c2c2c" stroke-width="1.3"/>
<path d="M1512.3 392.1Q1512.3 389.3 1515.1 389.3H1577.7V403.8H1515.1Q1512.3 403.8 1512.3 401.0Z" fill="url(#gGray)"/>
<path d="M1577.7 389.1V404.0" stroke="#2c2c2c" stroke-width="1.2"/>
<text x="1516.6" y="398.9" font-size="8.4" fill="#222" text-anchor="start" font-family="Liberation Sans, sans-serif" >Number Slider</text>
<path d="M1585.0 396.8H1665.0 M1585.0 396.8V392.8 M1593.0 396.8V394.8 M1601.0 396.8V394.8 M1609.0 396.8V394.8 M1617.0 396.8V394.8 M1625.0 396.8V394.8 M1633.0 396.8V394.8 M1641.0 396.8V394.8 M1649.0 396.8V394.8 M1657.0 396.8V394.8 M1665.0 396.8V392.8" stroke="#9a9a9a" stroke-width="0.8" fill="none"/>
<path d="M1598.0 396.6L1601.0 393.6L1604.0 396.6L1601.0 399.6Z" fill="#fff" stroke="#111" stroke-width="1.2"/>
<text x="1606.0" y="399.4" font-size="8.4" fill="#444" text-anchor="start" font-family="Liberation Sans, sans-serif" >2</text>
<circle cx="1685.4" cy="379.7" r="3.4" fill="#fff" stroke="#111" stroke-width="1.6"/>
<circle cx="1685.4" cy="395.9" r="3.4" fill="#fff" stroke="#111" stroke-width="1.6"/>
<path d="M1688.4 370.4H1738.9L1742.4 375.1L1738.9 378.3L1742.4 381.5L1738.9 384.7L1742.4 387.9L1738.9 391.2L1742.4 394.4L1738.9 397.6L1742.4 400.8L1738.9 404.0L1742.4 405.5H1688.4Q1685.4 405.5 1685.4 402.5V373.4Q1685.4 370.4 1688.4 370.4Z" fill="url(#gLight)" stroke="#2c2c2c" stroke-width="1.3"/>
<text x="1691.4" y="382.6" font-size="8.4" fill="#2a2a2a" text-anchor="start" font-family="Liberation Sans, sans-serif" >Points</text>
<text x="1714.0" y="398.8" font-size="8.4" fill="#2a2a2a" text-anchor="end" font-family="Liberation Sans, sans-serif" >Size</text>
<text x="1719.5" y="389" font-size="8" font-weight="bold" fill="#222" font-family="Liberation Sans, sans-serif">3</text>
<text x="1730.5" y="385" font-size="7" font-weight="bold" fill="#222" font-family="Liberation Sans, sans-serif">4</text>
<text x="1719.5" y="396" font-size="8" font-weight="bold" fill="#222" font-family="Liberation Sans, sans-serif">1</text>
<text x="1730.5" y="394" font-size="8" font-weight="bold" fill="#222" font-family="Liberation Sans, sans-serif">2</text>
<path d="M1724.5 386L1730.5 383M1724.5 387L1730.5 390M1724.5 393L1730.5 391" stroke="#333" stroke-width="0.8"/>
<circle cx="1550.5" cy="457.4" r="3.4" fill="#fff" stroke="#111" stroke-width="1.6"/>
<circle cx="1662.4" cy="449.5" r="3.4" fill="#fff" stroke="#111" stroke-width="1.6"/>
<circle cx="1662.4" cy="465.4" r="3.4" fill="#fff" stroke="#111" stroke-width="1.6"/>
<rect x="1550.5" y="440.2" width="111.9" height="34.7" rx="3.5" fill="url(#gGray)" stroke="#2c2c2c" stroke-width="1.4"/>
<path d="M1553.0 441.5H1659.9" stroke="#d0d0d8" stroke-opacity="0.7" stroke-width="1"/>
<text x="1593.0" y="460.0" font-size="8.4" fill="#2a2a2a" text-anchor="end" font-family="Liberation Sans, sans-serif" >Geometry</text>
<text x="1620.4" y="452.1" font-size="8.4" fill="#2a2a2a" text-anchor="start" font-family="Liberation Sans, sans-serif" >Area</text>
<text x="1620.4" y="468.0" font-size="8.4" fill="#2a2a2a" text-anchor="start" font-family="Liberation Sans, sans-serif" >Centroid</text>
<text x="1598.2" y="461.2" font-size="15" font-weight="bold" font-style="italic" fill="#111" font-family="Liberation Serif, serif">m</text>
<text x="1610.6" y="455.8" font-size="8" font-weight="bold" font-style="italic" fill="#111" font-family="Liberation Serif, serif">2</text>
<path d="M1816 751L1822 749.5V756H1819Z" fill="#000"/>
</svg></body></html>
